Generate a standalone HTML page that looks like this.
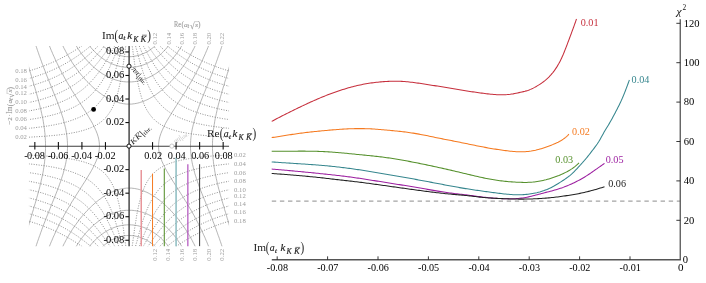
<!DOCTYPE html><html><head><meta charset="utf-8"><style>
html,body{margin:0;padding:0;background:#fff;}svg{display:block;will-change:transform;}text{font-family:"Liberation Serif",serif;}
</style></head><body>
<svg width="706" height="283" viewBox="0 0 706 283">
<rect width="706" height="283" fill="#fff"/>
<defs><clipPath id="cp"><rect x="28.95" y="46.05" width="200.09" height="200.09"/></clipPath></defs>
<g clip-path="url(#cp)" fill="none" stroke="#929292" stroke-width="0.68">
<path d="M159.4 250.8L158.3 249.5L157.2 248.4L156.0 247.2L154.8 246.1L153.6 245.0L152.3 244.0L151.0 243.0L149.7 242.1L148.3 241.2L146.9 240.4L145.5 239.6L144.0 238.9L142.5 238.2L141.0 237.6L139.5 237.1L137.9 236.7L136.3 236.3L134.7 236.0L133.1 235.7L131.4 235.6L129.8 235.5L128.2 235.5L126.6 235.6L124.9 235.7L123.3 236.0L121.7 236.3L120.1 236.7L118.5 237.1L117.0 237.6L115.5 238.2L114.0 238.9L112.5 239.6L111.1 240.4L109.7 241.2L108.3 242.1L107.0 243.0L105.7 244.0L104.4 245.0L103.2 246.1L102.0 247.2L100.8 248.4L99.7 249.5L98.6 250.8"/>
<path d="M98.6 41.4L99.7 42.7L100.8 43.8L102.0 45.0L103.2 46.1L104.4 47.2L105.7 48.2L107.0 49.2L108.3 50.1L109.7 51.0L111.1 51.8L112.5 52.6L114.0 53.3L115.5 54.0L117.0 54.6L118.5 55.1L120.1 55.5L121.7 55.9L123.3 56.2L124.9 56.5L126.6 56.6L128.2 56.7L129.8 56.7L131.4 56.6L133.1 56.5L134.7 56.2L136.3 55.9L137.9 55.5L139.5 55.1L141.0 54.6L142.5 54.0L144.0 53.3L145.5 52.6L146.9 51.8L148.3 51.0L149.7 50.1L151.0 49.2L152.3 48.2L153.6 47.2L154.8 46.1L156.0 45.0L157.2 43.8L158.3 42.7L159.4 41.4"/>
<path d="M171.7 250.8L170.8 249.5L169.8 248.2L168.9 246.9L167.9 245.7L166.9 244.4L165.8 243.2L164.7 242.0L163.6 240.9L162.5 239.7L161.4 238.6L160.2 237.5L159.0 236.5L157.7 235.5L156.5 234.5L155.2 233.6L153.8 232.6L152.5 231.8L151.1 231.0L149.7 230.2L148.3 229.4L146.8 228.8L145.4 228.1L143.9 227.5L142.4 227.0L140.8 226.5L139.3 226.1L137.7 225.7L136.2 225.4L134.6 225.2L133.0 225.0L131.4 224.9L129.8 224.8L128.2 224.8L126.6 224.9L125.0 225.0L123.4 225.2L121.8 225.4L120.3 225.7L118.7 226.1L117.2 226.5L115.6 227.0L114.1 227.5L112.6 228.1L111.2 228.8L109.7 229.4L108.3 230.2L106.9 231.0L105.5 231.8L104.2 232.6L102.8 233.6L101.5 234.5L100.3 235.5L99.0 236.5L97.8 237.5L96.6 238.6L95.5 239.7L94.4 240.9L93.3 242.0L92.2 243.2L91.1 244.4L90.1 245.7L89.1 246.9L88.2 248.2L87.2 249.5L86.3 250.8"/>
<path d="M86.3 41.4L87.2 42.7L88.2 44.0L89.1 45.3L90.1 46.5L91.1 47.8L92.2 49.0L93.3 50.2L94.4 51.3L95.5 52.5L96.6 53.6L97.8 54.7L99.0 55.7L100.3 56.7L101.5 57.7L102.8 58.6L104.2 59.6L105.5 60.4L106.9 61.2L108.3 62.0L109.7 62.8L111.2 63.4L112.6 64.1L114.1 64.7L115.6 65.2L117.2 65.7L118.7 66.1L120.3 66.5L121.8 66.8L123.4 67.0L125.0 67.2L126.6 67.3L128.2 67.4L129.8 67.4L131.4 67.3L133.0 67.2L134.6 67.0L136.2 66.8L137.7 66.5L139.3 66.1L140.8 65.7L142.4 65.2L143.9 64.7L145.4 64.1L146.8 63.4L148.3 62.8L149.7 62.0L151.1 61.2L152.5 60.4L153.8 59.6L155.2 58.6L156.5 57.7L157.7 56.7L159.0 55.7L160.2 54.7L161.4 53.6L162.5 52.5L163.6 51.3L164.7 50.2L165.8 49.0L166.9 47.8L167.9 46.5L168.9 45.3L169.8 44.0L170.8 42.7L171.7 41.4"/>
<path d="M184.4 250.8L183.6 249.4L182.8 248.0L181.9 246.6L181.1 245.3L180.2 243.9L179.3 242.6L178.4 241.2L177.5 239.9L176.5 238.6L175.6 237.3L174.6 236.0L173.6 234.8L172.5 233.5L171.5 232.3L170.4 231.1L169.3 229.9L168.2 228.7L167.0 227.6L165.8 226.5L164.6 225.4L163.4 224.3L162.2 223.3L160.9 222.3L159.6 221.3L158.3 220.3L157.0 219.4L155.7 218.5L154.3 217.7L152.9 216.9L151.5 216.1L150.0 215.4L148.6 214.7L147.1 214.0L145.6 213.4L144.1 212.9L142.5 212.3L141.0 211.9L139.4 211.5L137.8 211.1L136.2 210.8L134.6 210.6L133.0 210.4L131.4 210.3L129.8 210.3L128.2 210.3L126.6 210.3L125.0 210.4L123.4 210.6L121.8 210.8L120.2 211.1L118.6 211.5L117.0 211.9L115.5 212.3L113.9 212.9L112.4 213.4L110.9 214.0L109.4 214.7L108.0 215.4L106.5 216.1L105.1 216.9L103.7 217.7L102.3 218.5L101.0 219.4L99.7 220.3L98.4 221.3L97.1 222.3L95.8 223.3L94.6 224.3L93.4 225.4L92.2 226.5L91.0 227.6L89.8 228.7L88.7 229.9L87.6 231.1L86.5 232.3L85.5 233.5L84.4 234.8L83.4 236.0L82.4 237.3L81.5 238.6L80.5 239.9L79.6 241.2L78.7 242.6L77.8 243.9L76.9 245.3L76.1 246.6L75.2 248.0L74.4 249.4L73.6 250.8"/>
<path d="M73.6 41.4L74.4 42.8L75.2 44.2L76.1 45.6L76.9 46.9L77.8 48.3L78.7 49.6L79.6 51.0L80.5 52.3L81.5 53.6L82.4 54.9L83.4 56.2L84.4 57.4L85.5 58.7L86.5 59.9L87.6 61.1L88.7 62.3L89.8 63.5L91.0 64.6L92.2 65.7L93.4 66.8L94.6 67.9L95.8 68.9L97.1 69.9L98.4 70.9L99.7 71.9L101.0 72.8L102.3 73.7L103.7 74.5L105.1 75.3L106.5 76.1L108.0 76.8L109.4 77.5L110.9 78.2L112.4 78.8L113.9 79.3L115.5 79.9L117.0 80.3L118.6 80.7L120.2 81.1L121.8 81.4L123.4 81.6L125.0 81.8L126.6 81.9L128.2 81.9L129.8 81.9L131.4 81.9L133.0 81.8L134.6 81.6L136.2 81.4L137.8 81.1L139.4 80.7L141.0 80.3L142.5 79.9L144.1 79.3L145.6 78.8L147.1 78.2L148.6 77.5L150.0 76.8L151.5 76.1L152.9 75.3L154.3 74.5L155.7 73.7L157.0 72.8L158.3 71.9L159.6 70.9L160.9 69.9L162.2 68.9L163.4 67.9L164.6 66.8L165.8 65.7L167.0 64.6L168.2 63.5L169.3 62.3L170.4 61.1L171.5 59.9L172.5 58.7L173.6 57.4L174.6 56.2L175.6 54.9L176.5 53.6L177.5 52.3L178.4 51.0L179.3 49.6L180.2 48.3L181.1 46.9L181.9 45.6L182.8 44.2L183.6 42.8L184.4 41.4"/>
<path d="M197.2 250.8L196.6 249.4L195.9 247.9L195.2 246.5L194.5 245.0L193.8 243.6L193.0 242.2L192.3 240.7L191.5 239.3L190.7 237.9L189.9 236.5L189.1 235.1L188.3 233.8L187.5 232.4L186.6 231.0L185.8 229.7L184.9 228.3L184.0 227.0L183.1 225.7L182.1 224.4L181.2 223.1L180.2 221.8L179.3 220.5L178.3 219.2L177.3 218.0L176.3 216.7L175.2 215.5L174.2 214.3L173.1 213.1L172.0 211.9L171.0 210.7L169.8 209.6L168.7 208.4L167.6 207.3L166.4 206.2L165.2 205.1L164.0 204.0L162.8 203.0L161.6 201.9L160.3 200.9L159.1 199.9L157.8 199.0L156.5 198.0L155.2 197.1L153.8 196.2L152.5 195.4L151.1 194.6L149.7 193.8L148.3 193.0L146.8 192.3L145.3 191.7L143.9 191.0L142.4 190.5L140.8 190.0L139.3 189.5L137.7 189.1L136.2 188.8L134.6 188.5L133.0 188.3L131.4 188.1L129.8 188.1L128.2 188.1L126.6 188.1L125.0 188.3L123.4 188.5L121.8 188.8L120.3 189.1L118.7 189.5L117.2 190.0L115.6 190.5L114.1 191.0L112.7 191.7L111.2 192.3L109.7 193.0L108.3 193.8L106.9 194.6L105.5 195.4L104.2 196.2L102.8 197.1L101.5 198.0L100.2 199.0L98.9 199.9L97.7 200.9L96.4 201.9L95.2 203.0L94.0 204.0L92.8 205.1L91.6 206.2L90.4 207.3L89.3 208.4L88.2 209.6L87.0 210.7L86.0 211.9L84.9 213.1L83.8 214.3L82.8 215.5L81.7 216.7L80.7 218.0L79.7 219.2L78.7 220.5L77.8 221.8L76.8 223.1L75.9 224.4L74.9 225.7L74.0 227.0L73.1 228.3L72.2 229.7L71.4 231.0L70.5 232.4L69.7 233.8L68.9 235.1L68.1 236.5L67.3 237.9L66.5 239.3L65.7 240.7L65.0 242.2L64.2 243.6L63.5 245.0L62.8 246.5L62.1 247.9L61.4 249.4L60.8 250.8"/>
<path d="M60.8 41.4L61.4 42.8L62.1 44.3L62.8 45.7L63.5 47.2L64.2 48.6L65.0 50.0L65.7 51.5L66.5 52.9L67.3 54.3L68.1 55.7L68.9 57.1L69.7 58.4L70.5 59.8L71.4 61.2L72.2 62.5L73.1 63.9L74.0 65.2L74.9 66.5L75.9 67.8L76.8 69.1L77.8 70.4L78.7 71.7L79.7 73.0L80.7 74.2L81.7 75.5L82.8 76.7L83.8 77.9L84.9 79.1L86.0 80.3L87.0 81.5L88.2 82.6L89.3 83.8L90.4 84.9L91.6 86.0L92.8 87.1L94.0 88.2L95.2 89.2L96.4 90.3L97.7 91.3L98.9 92.3L100.2 93.2L101.5 94.2L102.8 95.1L104.2 96.0L105.5 96.8L106.9 97.6L108.3 98.4L109.7 99.2L111.2 99.9L112.7 100.5L114.1 101.2L115.6 101.7L117.2 102.2L118.7 102.7L120.3 103.1L121.8 103.4L123.4 103.7L125.0 103.9L126.6 104.1L128.2 104.1L129.8 104.1L131.4 104.1L133.0 103.9L134.6 103.7L136.2 103.4L137.7 103.1L139.3 102.7L140.8 102.2L142.4 101.7L143.9 101.2L145.3 100.5L146.8 99.9L148.3 99.2L149.7 98.4L151.1 97.6L152.5 96.8L153.8 96.0L155.2 95.1L156.5 94.2L157.8 93.2L159.1 92.3L160.3 91.3L161.6 90.3L162.8 89.2L164.0 88.2L165.2 87.1L166.4 86.0L167.6 84.9L168.7 83.8L169.8 82.6L171.0 81.5L172.0 80.3L173.1 79.1L174.2 77.9L175.2 76.7L176.3 75.5L177.3 74.2L178.3 73.0L179.3 71.7L180.2 70.4L181.2 69.1L182.1 67.8L183.1 66.5L184.0 65.2L184.9 63.9L185.8 62.5L186.6 61.2L187.5 59.8L188.3 58.4L189.1 57.1L189.9 55.7L190.7 54.3L191.5 52.9L192.3 51.5L193.0 50.0L193.8 48.6L194.5 47.2L195.2 45.7L195.9 44.3L196.6 42.8L197.2 41.4"/>
<path d="M210.2 250.7L209.7 249.2L209.1 247.7L208.5 246.2L207.9 244.7L207.3 243.2L206.7 241.7L206.0 240.2L205.4 238.7L204.8 237.3L204.1 235.8L203.4 234.3L202.8 232.9L202.1 231.4L201.4 230.0L200.7 228.5L200.0 227.1L199.3 225.6L198.6 224.2L197.8 222.7L197.1 221.3L196.3 219.9L195.6 218.5L194.8 217.1L194.1 215.6L193.3 214.2L192.5 212.8L191.7 211.4L190.9 210.0L190.1 208.6L189.3 207.3L188.4 205.9L187.6 204.5L186.8 203.1L186.0 201.7L185.1 200.4L184.3 199.0L183.4 197.6L182.6 196.3L181.7 194.9L180.8 193.6L180.0 192.2L179.1 190.8L178.2 189.5L177.4 188.1L176.5 186.8L175.6 185.4L174.8 184.1L173.9 182.7L173.0 181.3L172.2 180.0L171.3 178.6L170.5 177.2L169.7 175.9L168.8 174.5L168.0 173.1L167.2 171.7L166.4 170.3L165.6 168.9L164.9 167.5L164.1 166.1L163.4 164.6L162.8 163.1L162.1 161.7L161.5 160.2L160.9 158.7L160.4 157.2L159.9 155.6L159.5 154.1L159.2 152.5L158.9 150.9L158.7 149.3L158.6 147.7L158.5 146.1L158.6 144.5L158.7 142.9L158.9 141.3L159.2 139.7L159.5 138.1L159.9 136.6L160.4 135.0L160.9 133.5L161.5 132.0L162.1 130.5L162.8 129.1L163.4 127.6L164.1 126.1L164.9 124.7L165.6 123.3L166.4 121.9L167.2 120.5L168.0 119.1L168.8 117.7L169.7 116.3L170.5 115.0L171.3 113.6L172.2 112.2L173.0 110.9L173.9 109.5L174.8 108.1L175.6 106.8L176.5 105.4L177.4 104.1L178.2 102.7L179.1 101.4L180.0 100.0L180.8 98.6L181.7 97.3L182.6 95.9L183.4 94.6L184.3 93.2L185.1 91.8L186.0 90.5L186.8 89.1L187.6 87.7L188.4 86.3L189.3 84.9L190.1 83.6L190.9 82.2L191.7 80.8L192.5 79.4L193.3 78.0L194.1 76.6L194.8 75.1L195.6 73.7L196.3 72.3L197.1 70.9L197.8 69.5L198.6 68.0L199.3 66.6L200.0 65.1L200.7 63.7L201.4 62.2L202.1 60.8L202.8 59.3L203.4 57.9L204.1 56.4L204.8 54.9L205.4 53.5L206.0 52.0L206.7 50.5L207.3 49.0L207.9 47.5L208.5 46.0L209.1 44.5L209.7 43.0L210.2 41.5"/>
<path d="M47.8 41.5L48.3 43.0L48.9 44.5L49.5 46.0L50.1 47.5L50.7 49.0L51.3 50.5L52.0 52.0L52.6 53.5L53.2 54.9L53.9 56.4L54.6 57.9L55.2 59.3L55.9 60.8L56.6 62.2L57.3 63.7L58.0 65.1L58.7 66.6L59.4 68.0L60.2 69.5L60.9 70.9L61.7 72.3L62.4 73.7L63.2 75.1L63.9 76.6L64.7 78.0L65.5 79.4L66.3 80.8L67.1 82.2L67.9 83.6L68.7 84.9L69.6 86.3L70.4 87.7L71.2 89.1L72.0 90.5L72.9 91.8L73.7 93.2L74.6 94.6L75.4 95.9L76.3 97.3L77.2 98.6L78.0 100.0L78.9 101.4L79.8 102.7L80.6 104.1L81.5 105.4L82.4 106.8L83.2 108.1L84.1 109.5L85.0 110.9L85.8 112.2L86.7 113.6L87.5 115.0L88.3 116.3L89.2 117.7L90.0 119.1L90.8 120.5L91.6 121.9L92.4 123.3L93.1 124.7L93.9 126.1L94.6 127.6L95.2 129.1L95.9 130.5L96.5 132.0L97.1 133.5L97.6 135.0L98.1 136.6L98.5 138.1L98.8 139.7L99.1 141.3L99.3 142.9L99.4 144.5L99.5 146.1L99.4 147.7L99.3 149.3L99.1 150.9L98.8 152.5L98.5 154.1L98.1 155.6L97.6 157.2L97.1 158.7L96.5 160.2L95.9 161.7L95.2 163.1L94.6 164.6L93.9 166.1L93.1 167.5L92.4 168.9L91.6 170.3L90.8 171.7L90.0 173.1L89.2 174.5L88.3 175.9L87.5 177.2L86.7 178.6L85.8 180.0L85.0 181.3L84.1 182.7L83.2 184.1L82.4 185.4L81.5 186.8L80.6 188.1L79.8 189.5L78.9 190.8L78.0 192.2L77.2 193.6L76.3 194.9L75.4 196.3L74.6 197.6L73.7 199.0L72.9 200.4L72.0 201.7L71.2 203.1L70.4 204.5L69.6 205.9L68.7 207.3L67.9 208.6L67.1 210.0L66.3 211.4L65.5 212.8L64.7 214.2L63.9 215.6L63.2 217.1L62.4 218.5L61.7 219.9L60.9 221.3L60.2 222.7L59.4 224.2L58.7 225.6L58.0 227.1L57.3 228.5L56.6 230.0L55.9 231.4L55.2 232.9L54.6 234.3L53.9 235.8L53.2 237.3L52.6 238.7L52.0 240.2L51.3 241.7L50.7 243.2L50.1 244.7L49.5 246.2L48.9 247.7L48.3 249.2L47.8 250.7"/>
<path d="M223.4 250.6L222.9 249.1L222.4 247.6L221.9 246.0L221.4 244.5L220.9 243.0L220.4 241.5L219.8 239.9L219.3 238.4L218.8 236.9L218.2 235.4L217.7 233.9L217.2 232.4L216.6 230.9L216.1 229.3L215.5 227.8L214.9 226.3L214.4 224.8L213.8 223.3L213.2 221.8L212.6 220.3L212.0 218.8L211.5 217.3L210.9 215.8L210.3 214.4L209.7 212.9L209.1 211.4L208.5 209.9L207.9 208.4L207.3 206.9L206.7 205.4L206.1 203.9L205.5 202.4L204.9 200.9L204.3 199.4L203.7 197.9L203.1 196.5L202.5 195.0L201.9 193.5L201.3 192.0L200.7 190.5L200.2 189.0L199.6 187.5L199.0 186.0L198.5 184.4L197.9 182.9L197.4 181.4L196.9 179.9L196.4 178.4L195.9 176.8L195.4 175.3L194.9 173.8L194.5 172.2L194.1 170.7L193.6 169.1L193.3 167.6L192.9 166.0L192.5 164.4L192.2 162.9L191.9 161.3L191.6 159.7L191.4 158.1L191.2 156.5L191.0 154.9L190.8 153.3L190.7 151.7L190.6 150.1L190.5 148.5L190.5 146.9L190.5 145.3L190.5 143.7L190.6 142.1L190.7 140.5L190.8 138.9L191.0 137.3L191.2 135.7L191.4 134.1L191.6 132.5L191.9 130.9L192.2 129.3L192.5 127.8L192.9 126.2L193.3 124.6L193.6 123.1L194.1 121.5L194.5 120.0L194.9 118.4L195.4 116.9L195.9 115.4L196.4 113.8L196.9 112.3L197.4 110.8L197.9 109.3L198.5 107.8L199.0 106.2L199.6 104.7L200.2 103.2L200.7 101.7L201.3 100.2L201.9 98.7L202.5 97.2L203.1 95.7L203.7 94.3L204.3 92.8L204.9 91.3L205.5 89.8L206.1 88.3L206.7 86.8L207.3 85.3L207.9 83.8L208.5 82.3L209.1 80.8L209.7 79.3L210.3 77.8L210.9 76.4L211.5 74.9L212.0 73.4L212.6 71.9L213.2 70.4L213.8 68.9L214.4 67.4L214.9 65.9L215.5 64.4L216.1 62.9L216.6 61.3L217.2 59.8L217.7 58.3L218.2 56.8L218.8 55.3L219.3 53.8L219.8 52.3L220.4 50.7L220.9 49.2L221.4 47.7L221.9 46.2L222.4 44.6L222.9 43.1L223.4 41.6"/>
<path d="M34.6 41.6L35.1 43.1L35.6 44.6L36.1 46.2L36.6 47.7L37.1 49.2L37.6 50.7L38.2 52.3L38.7 53.8L39.2 55.3L39.8 56.8L40.3 58.3L40.8 59.8L41.4 61.3L41.9 62.9L42.5 64.4L43.1 65.9L43.6 67.4L44.2 68.9L44.8 70.4L45.4 71.9L46.0 73.4L46.5 74.9L47.1 76.4L47.7 77.8L48.3 79.3L48.9 80.8L49.5 82.3L50.1 83.8L50.7 85.3L51.3 86.8L51.9 88.3L52.5 89.8L53.1 91.3L53.7 92.8L54.3 94.3L54.9 95.7L55.5 97.2L56.1 98.7L56.7 100.2L57.3 101.7L57.8 103.2L58.4 104.7L59.0 106.2L59.5 107.8L60.1 109.3L60.6 110.8L61.1 112.3L61.6 113.8L62.1 115.4L62.6 116.9L63.1 118.4L63.5 120.0L63.9 121.5L64.4 123.1L64.7 124.6L65.1 126.2L65.5 127.8L65.8 129.3L66.1 130.9L66.4 132.5L66.6 134.1L66.8 135.7L67.0 137.3L67.2 138.9L67.3 140.5L67.4 142.1L67.5 143.7L67.5 145.3L67.5 146.9L67.5 148.5L67.4 150.1L67.3 151.7L67.2 153.3L67.0 154.9L66.8 156.5L66.6 158.1L66.4 159.7L66.1 161.3L65.8 162.9L65.5 164.4L65.1 166.0L64.7 167.6L64.4 169.1L63.9 170.7L63.5 172.2L63.1 173.8L62.6 175.3L62.1 176.8L61.6 178.4L61.1 179.9L60.6 181.4L60.1 182.9L59.5 184.4L59.0 186.0L58.4 187.5L57.8 189.0L57.3 190.5L56.7 192.0L56.1 193.5L55.5 195.0L54.9 196.5L54.3 197.9L53.7 199.4L53.1 200.9L52.5 202.4L51.9 203.9L51.3 205.4L50.7 206.9L50.1 208.4L49.5 209.9L48.9 211.4L48.3 212.9L47.7 214.4L47.1 215.8L46.5 217.3L46.0 218.8L45.4 220.3L44.8 221.8L44.2 223.3L43.6 224.8L43.1 226.3L42.5 227.8L41.9 229.3L41.4 230.9L40.8 232.4L40.3 233.9L39.8 235.4L39.2 236.9L38.7 238.4L38.2 239.9L37.6 241.5L37.1 243.0L36.6 244.5L36.1 246.0L35.6 247.6L35.1 249.1L34.6 250.6"/>
<path d="M233.7 240.3L233.3 238.7L232.8 237.2L232.4 235.7L232.0 234.1L231.5 232.6L231.1 231.0L230.6 229.5L230.2 228.0L229.7 226.4L229.2 224.9L228.8 223.4L228.3 221.8L227.9 220.3L227.4 218.8L226.9 217.2L226.5 215.7L226.0 214.2L225.6 212.6L225.1 211.1L224.6 209.6L224.2 208.0L223.7 206.5L223.3 205.0L222.8 203.4L222.4 201.9L221.9 200.3L221.5 198.8L221.1 197.3L220.6 195.7L220.2 194.2L219.8 192.6L219.4 191.1L218.9 189.5L218.5 188.0L218.1 186.4L217.8 184.9L217.4 183.3L217.0 181.8L216.7 180.2L216.3 178.6L216.0 177.1L215.6 175.5L215.3 173.9L215.0 172.4L214.7 170.8L214.5 169.2L214.2 167.6L214.0 166.0L213.8 164.5L213.5 162.9L213.4 161.3L213.2 159.7L213.0 158.1L212.9 156.5L212.8 154.9L212.7 153.3L212.6 151.7L212.5 150.1L212.5 148.5L212.5 146.9L212.5 145.3L212.5 143.7L212.5 142.1L212.6 140.5L212.7 138.9L212.8 137.3L212.9 135.7L213.0 134.1L213.2 132.5L213.4 130.9L213.5 129.3L213.8 127.7L214.0 126.2L214.2 124.6L214.5 123.0L214.7 121.4L215.0 119.8L215.3 118.3L215.6 116.7L216.0 115.1L216.3 113.6L216.7 112.0L217.0 110.4L217.4 108.9L217.8 107.3L218.1 105.8L218.5 104.2L218.9 102.7L219.4 101.1L219.8 99.6L220.2 98.0L220.6 96.5L221.1 94.9L221.5 93.4L221.9 91.9L222.4 90.3L222.8 88.8L223.3 87.2L223.7 85.7L224.2 84.2L224.6 82.6L225.1 81.1L225.6 79.6L226.0 78.0L226.5 76.5L226.9 75.0L227.4 73.4L227.9 71.9L228.3 70.4L228.8 68.8L229.2 67.3L229.7 65.8L230.2 64.2L230.6 62.7L231.1 61.2L231.5 59.6L232.0 58.1L232.4 56.5L232.8 55.0L233.3 53.5L233.7 51.9"/>
<path d="M24.3 51.9L24.7 53.5L25.2 55.0L25.6 56.5L26.0 58.1L26.5 59.6L26.9 61.2L27.4 62.7L27.8 64.2L28.3 65.8L28.8 67.3L29.2 68.8L29.7 70.4L30.1 71.9L30.6 73.4L31.1 75.0L31.5 76.5L32.0 78.0L32.4 79.6L32.9 81.1L33.4 82.6L33.8 84.2L34.3 85.7L34.7 87.2L35.2 88.8L35.6 90.3L36.1 91.9L36.5 93.4L36.9 94.9L37.4 96.5L37.8 98.0L38.2 99.6L38.6 101.1L39.1 102.7L39.5 104.2L39.9 105.8L40.2 107.3L40.6 108.9L41.0 110.4L41.3 112.0L41.7 113.6L42.0 115.1L42.4 116.7L42.7 118.3L43.0 119.8L43.3 121.4L43.5 123.0L43.8 124.6L44.0 126.2L44.2 127.7L44.5 129.3L44.6 130.9L44.8 132.5L45.0 134.1L45.1 135.7L45.2 137.3L45.3 138.9L45.4 140.5L45.5 142.1L45.5 143.7L45.5 145.3L45.5 146.9L45.5 148.5L45.5 150.1L45.4 151.7L45.3 153.3L45.2 154.9L45.1 156.5L45.0 158.1L44.8 159.7L44.6 161.3L44.5 162.9L44.2 164.5L44.0 166.0L43.8 167.6L43.5 169.2L43.3 170.8L43.0 172.4L42.7 173.9L42.4 175.5L42.0 177.1L41.7 178.6L41.3 180.2L41.0 181.8L40.6 183.3L40.2 184.9L39.9 186.4L39.5 188.0L39.1 189.5L38.6 191.1L38.2 192.6L37.8 194.2L37.4 195.7L36.9 197.3L36.5 198.8L36.1 200.3L35.6 201.9L35.2 203.4L34.7 205.0L34.3 206.5L33.8 208.0L33.4 209.6L32.9 211.1L32.4 212.6L32.0 214.2L31.5 215.7L31.1 217.2L30.6 218.8L30.1 220.3L29.7 221.8L29.2 223.4L28.8 224.9L28.3 226.4L27.8 228.0L27.4 229.5L26.9 231.0L26.5 232.6L26.0 234.1L25.6 235.7L25.2 237.2L24.7 238.7L24.3 240.3"/>
</g>
<g clip-path="url(#cp)" fill="none" stroke="#868686" stroke-width="0.9" stroke-dasharray="1.05 1.45">
<path d="M131.5 41.4L131.8 43.0L132.0 44.6L132.2 46.2L132.5 47.7L132.7 49.3L132.9 50.9L133.1 52.5L133.3 54.1L133.5 55.7L133.8 57.3L134.0 58.9L134.2 60.5L134.4 62.1L134.6 63.7L134.9 65.3L135.1 66.9L135.4 68.4L135.6 70.0L135.9 71.6L136.1 73.2L136.4 74.8L136.6 76.4L136.9 78.0L137.2 79.5L137.5 81.1L137.8 82.7L138.2 84.3L138.5 85.8L138.9 87.4L139.2 89.0L139.6 90.5L140.0 92.1L140.4 93.6L140.9 95.2L141.3 96.7L141.8 98.3L142.4 99.8L142.9 101.3L143.5 102.8L144.1 104.3L144.7 105.8L145.4 107.2L146.1 108.6L146.9 110.1L147.7 111.4L148.6 112.8L149.5 114.1L150.5 115.4L151.5 116.7L152.5 117.9L153.7 119.0L154.8 120.1L156.0 121.2L157.3 122.2L158.6 123.1L159.9 124.0L161.3 124.9L162.7 125.6L164.1 126.4L165.6 127.1L167.1 127.7L168.5 128.3L170.1 128.9L171.6 129.4L173.1 129.9L174.6 130.4L176.2 130.8L177.7 131.2L179.3 131.6L180.9 132.0L182.4 132.3L184.0 132.6L185.6 132.9L187.2 133.2L188.8 133.5L190.4 133.7L191.9 134.0L193.5 134.2L195.1 134.4L196.7 134.6L198.3 134.8L199.9 135.0L201.5 135.2L203.1 135.3L204.7 135.5L206.3 135.6L207.9 135.8L209.5 135.9L211.1 136.1L212.7 136.2L214.3 136.3L215.9 136.4L217.5 136.5L219.1 136.6L220.7 136.7L222.3 136.8L223.9 136.9L225.6 137.0L227.2 137.1L228.8 137.2L230.4 137.3L232.0 137.3L233.6 137.4"/>
<path d="M126.5 250.8L126.2 249.2L126.0 247.6L125.8 246.0L125.5 244.5L125.3 242.9L125.1 241.3L124.9 239.7L124.7 238.1L124.5 236.5L124.2 234.9L124.0 233.3L123.8 231.7L123.6 230.1L123.4 228.5L123.1 226.9L122.9 225.3L122.6 223.8L122.4 222.2L122.1 220.6L121.9 219.0L121.6 217.4L121.4 215.8L121.1 214.2L120.8 212.7L120.5 211.1L120.2 209.5L119.8 207.9L119.5 206.4L119.1 204.8L118.8 203.2L118.4 201.7L118.0 200.1L117.6 198.6L117.1 197.0L116.7 195.5L116.2 193.9L115.6 192.4L115.1 190.9L114.5 189.4L113.9 187.9L113.3 186.4L112.6 185.0L111.9 183.6L111.1 182.1L110.3 180.8L109.4 179.4L108.5 178.1L107.5 176.8L106.5 175.5L105.5 174.3L104.3 173.2L103.2 172.1L102.0 171.0L100.7 170.0L99.4 169.1L98.1 168.2L96.7 167.3L95.3 166.6L93.9 165.8L92.4 165.1L90.9 164.5L89.5 163.9L87.9 163.3L86.4 162.8L84.9 162.3L83.4 161.8L81.8 161.4L80.3 161.0L78.7 160.6L77.1 160.2L75.6 159.9L74.0 159.6L72.4 159.3L70.8 159.0L69.2 158.7L67.6 158.5L66.1 158.2L64.5 158.0L62.9 157.8L61.3 157.6L59.7 157.4L58.1 157.2L56.5 157.0L54.9 156.9L53.3 156.7L51.7 156.6L50.1 156.4L48.5 156.3L46.9 156.1L45.3 156.0L43.7 155.9L42.1 155.8L40.5 155.7L38.9 155.6L37.3 155.5L35.7 155.4L34.1 155.3L32.4 155.2L30.8 155.1L29.2 155.0L27.6 154.9L26.0 154.9L24.4 154.8"/>
<path d="M131.5 250.8L131.8 249.2L132.0 247.6L132.2 246.0L132.5 244.5L132.7 242.9L132.9 241.3L133.1 239.7L133.3 238.1L133.5 236.5L133.8 234.9L134.0 233.3L134.2 231.7L134.4 230.1L134.6 228.5L134.9 226.9L135.1 225.3L135.4 223.8L135.6 222.2L135.9 220.6L136.1 219.0L136.4 217.4L136.6 215.8L136.9 214.2L137.2 212.7L137.5 211.1L137.8 209.5L138.2 207.9L138.5 206.4L138.9 204.8L139.2 203.2L139.6 201.7L140.0 200.1L140.4 198.6L140.9 197.0L141.3 195.5L141.8 193.9L142.4 192.4L142.9 190.9L143.5 189.4L144.1 187.9L144.7 186.4L145.4 185.0L146.1 183.6L146.9 182.1L147.7 180.8L148.6 179.4L149.5 178.1L150.5 176.8L151.5 175.5L152.5 174.3L153.7 173.2L154.8 172.1L156.0 171.0L157.3 170.0L158.6 169.1L159.9 168.2L161.3 167.3L162.7 166.6L164.1 165.8L165.6 165.1L167.1 164.5L168.5 163.9L170.1 163.3L171.6 162.8L173.1 162.3L174.6 161.8L176.2 161.4L177.7 161.0L179.3 160.6L180.9 160.2L182.4 159.9L184.0 159.6L185.6 159.3L187.2 159.0L188.8 158.7L190.4 158.5L191.9 158.2L193.5 158.0L195.1 157.8L196.7 157.6L198.3 157.4L199.9 157.2L201.5 157.0L203.1 156.9L204.7 156.7L206.3 156.6L207.9 156.4L209.5 156.3L211.1 156.1L212.7 156.0L214.3 155.9L215.9 155.8L217.5 155.7L219.1 155.6L220.7 155.5L222.3 155.4L223.9 155.3L225.6 155.2L227.2 155.1L228.8 155.0L230.4 154.9L232.0 154.9L233.6 154.8"/>
<path d="M126.5 41.4L126.2 43.0L126.0 44.6L125.8 46.2L125.5 47.7L125.3 49.3L125.1 50.9L124.9 52.5L124.7 54.1L124.5 55.7L124.2 57.3L124.0 58.9L123.8 60.5L123.6 62.1L123.4 63.7L123.1 65.3L122.9 66.9L122.6 68.4L122.4 70.0L122.1 71.6L121.9 73.2L121.6 74.8L121.4 76.4L121.1 78.0L120.8 79.5L120.5 81.1L120.2 82.7L119.8 84.3L119.5 85.8L119.1 87.4L118.8 89.0L118.4 90.5L118.0 92.1L117.6 93.6L117.1 95.2L116.7 96.7L116.2 98.3L115.6 99.8L115.1 101.3L114.5 102.8L113.9 104.3L113.3 105.8L112.6 107.2L111.9 108.6L111.1 110.1L110.3 111.4L109.4 112.8L108.5 114.1L107.5 115.4L106.5 116.7L105.5 117.9L104.3 119.0L103.2 120.1L102.0 121.2L100.7 122.2L99.4 123.1L98.1 124.0L96.7 124.9L95.3 125.6L93.9 126.4L92.4 127.1L90.9 127.7L89.5 128.3L87.9 128.9L86.4 129.4L84.9 129.9L83.4 130.4L81.8 130.8L80.3 131.2L78.7 131.6L77.1 132.0L75.6 132.3L74.0 132.6L72.4 132.9L70.8 133.2L69.2 133.5L67.6 133.7L66.1 134.0L64.5 134.2L62.9 134.4L61.3 134.6L59.7 134.8L58.1 135.0L56.5 135.2L54.9 135.3L53.3 135.5L51.7 135.6L50.1 135.8L48.5 135.9L46.9 136.1L45.3 136.2L43.7 136.3L42.1 136.4L40.5 136.5L38.9 136.6L37.3 136.7L35.7 136.8L34.1 136.9L32.4 137.0L30.8 137.1L29.2 137.2L27.6 137.3L26.0 137.3L24.4 137.4"/>
<path d="M134.2 41.4L134.7 42.9L135.2 44.4L135.6 46.0L136.0 47.5L136.4 49.1L136.9 50.6L137.3 52.2L137.7 53.7L138.1 55.3L138.5 56.8L139.0 58.4L139.4 59.9L139.8 61.5L140.3 63.0L140.7 64.6L141.2 66.1L141.7 67.6L142.1 69.2L142.6 70.7L143.1 72.2L143.6 73.8L144.2 75.3L144.7 76.8L145.3 78.3L145.8 79.8L146.4 81.3L147.1 82.8L147.7 84.3L148.3 85.7L149.0 87.2L149.7 88.6L150.5 90.1L151.2 91.5L152.0 92.9L152.8 94.3L153.7 95.6L154.5 97.0L155.4 98.3L156.4 99.6L157.4 100.9L158.4 102.1L159.4 103.3L160.5 104.5L161.6 105.7L162.8 106.8L164.0 107.9L165.2 108.9L166.4 110.0L167.7 110.9L169.0 111.9L170.4 112.8L171.7 113.6L173.1 114.4L174.5 115.2L175.9 116.0L177.4 116.7L178.8 117.4L180.3 118.0L181.8 118.6L183.3 119.2L184.8 119.8L186.3 120.3L187.8 120.8L189.3 121.3L190.9 121.8L192.4 122.2L194.0 122.6L195.5 123.0L197.1 123.4L198.7 123.8L200.2 124.1L201.8 124.4L203.4 124.8L205.0 125.1L206.5 125.3L208.1 125.6L209.7 125.9L211.3 126.1L212.9 126.4L214.5 126.6L216.1 126.8L217.7 127.0L219.3 127.2L220.9 127.4L222.4 127.6L224.0 127.8L225.6 128.0L227.2 128.1L228.8 128.3L230.4 128.5L232.0 128.6L233.6 128.8"/>
<path d="M123.8 250.8L123.3 249.3L122.8 247.8L122.4 246.2L122.0 244.7L121.6 243.1L121.1 241.6L120.7 240.0L120.3 238.5L119.9 236.9L119.5 235.4L119.0 233.8L118.6 232.3L118.2 230.7L117.7 229.2L117.3 227.6L116.8 226.1L116.3 224.6L115.9 223.0L115.4 221.5L114.9 220.0L114.4 218.4L113.8 216.9L113.3 215.4L112.7 213.9L112.2 212.4L111.6 210.9L110.9 209.4L110.3 207.9L109.7 206.5L109.0 205.0L108.3 203.6L107.5 202.1L106.8 200.7L106.0 199.3L105.2 197.9L104.3 196.6L103.5 195.2L102.6 193.9L101.6 192.6L100.6 191.3L99.6 190.1L98.6 188.9L97.5 187.7L96.4 186.5L95.2 185.4L94.0 184.3L92.8 183.3L91.6 182.2L90.3 181.3L89.0 180.3L87.6 179.4L86.3 178.6L84.9 177.8L83.5 177.0L82.1 176.2L80.6 175.5L79.2 174.8L77.7 174.2L76.2 173.6L74.7 173.0L73.2 172.4L71.7 171.9L70.2 171.4L68.7 170.9L67.1 170.4L65.6 170.0L64.0 169.6L62.5 169.2L60.9 168.8L59.3 168.4L57.8 168.1L56.2 167.8L54.6 167.4L53.0 167.1L51.5 166.9L49.9 166.6L48.3 166.3L46.7 166.1L45.1 165.8L43.5 165.6L41.9 165.4L40.3 165.2L38.7 165.0L37.1 164.8L35.6 164.6L34.0 164.4L32.4 164.2L30.8 164.1L29.2 163.9L27.6 163.7L26.0 163.6L24.4 163.4"/>
<path d="M134.2 250.8L134.7 249.3L135.2 247.8L135.6 246.2L136.0 244.7L136.4 243.1L136.9 241.6L137.3 240.0L137.7 238.5L138.1 236.9L138.5 235.4L139.0 233.8L139.4 232.3L139.8 230.7L140.3 229.2L140.7 227.6L141.2 226.1L141.7 224.6L142.1 223.0L142.6 221.5L143.1 220.0L143.6 218.4L144.2 216.9L144.7 215.4L145.3 213.9L145.8 212.4L146.4 210.9L147.1 209.4L147.7 207.9L148.3 206.5L149.0 205.0L149.7 203.6L150.5 202.1L151.2 200.7L152.0 199.3L152.8 197.9L153.7 196.6L154.5 195.2L155.4 193.9L156.4 192.6L157.4 191.3L158.4 190.1L159.4 188.9L160.5 187.7L161.6 186.5L162.8 185.4L164.0 184.3L165.2 183.3L166.4 182.2L167.7 181.3L169.0 180.3L170.4 179.4L171.7 178.6L173.1 177.8L174.5 177.0L175.9 176.2L177.4 175.5L178.8 174.8L180.3 174.2L181.8 173.6L183.3 173.0L184.8 172.4L186.3 171.9L187.8 171.4L189.3 170.9L190.9 170.4L192.4 170.0L194.0 169.6L195.5 169.2L197.1 168.8L198.7 168.4L200.2 168.1L201.8 167.8L203.4 167.4L205.0 167.1L206.5 166.9L208.1 166.6L209.7 166.3L211.3 166.1L212.9 165.8L214.5 165.6L216.1 165.4L217.7 165.2L219.3 165.0L220.9 164.8L222.4 164.6L224.0 164.4L225.6 164.2L227.2 164.1L228.8 163.9L230.4 163.7L232.0 163.6L233.6 163.4"/>
<path d="M123.8 41.4L123.3 42.9L122.8 44.4L122.4 46.0L122.0 47.5L121.6 49.1L121.1 50.6L120.7 52.2L120.3 53.7L119.9 55.3L119.5 56.8L119.0 58.4L118.6 59.9L118.2 61.5L117.7 63.0L117.3 64.6L116.8 66.1L116.3 67.6L115.9 69.2L115.4 70.7L114.9 72.2L114.4 73.8L113.8 75.3L113.3 76.8L112.7 78.3L112.2 79.8L111.6 81.3L110.9 82.8L110.3 84.3L109.7 85.7L109.0 87.2L108.3 88.6L107.5 90.1L106.8 91.5L106.0 92.9L105.2 94.3L104.3 95.6L103.5 97.0L102.6 98.3L101.6 99.6L100.6 100.9L99.6 102.1L98.6 103.3L97.5 104.5L96.4 105.7L95.2 106.8L94.0 107.9L92.8 108.9L91.6 110.0L90.3 110.9L89.0 111.9L87.6 112.8L86.3 113.6L84.9 114.4L83.5 115.2L82.1 116.0L80.6 116.7L79.2 117.4L77.7 118.0L76.2 118.6L74.7 119.2L73.2 119.8L71.7 120.3L70.2 120.8L68.7 121.3L67.1 121.8L65.6 122.2L64.0 122.6L62.5 123.0L60.9 123.4L59.3 123.8L57.8 124.1L56.2 124.4L54.6 124.8L53.0 125.1L51.5 125.3L49.9 125.6L48.3 125.9L46.7 126.1L45.1 126.4L43.5 126.6L41.9 126.8L40.3 127.0L38.7 127.2L37.1 127.4L35.6 127.6L34.0 127.8L32.4 128.0L30.8 128.1L29.2 128.3L27.6 128.5L26.0 128.6L24.4 128.8"/>
<path d="M137.2 41.4L137.9 42.8L138.5 44.3L139.2 45.8L139.8 47.3L140.4 48.8L141.0 50.3L141.6 51.8L142.3 53.3L142.9 54.8L143.5 56.3L144.1 57.8L144.8 59.3L145.4 60.8L146.0 62.2L146.7 63.7L147.4 65.2L148.0 66.7L148.7 68.1L149.5 69.6L150.2 71.0L150.9 72.5L151.7 73.9L152.4 75.3L153.2 76.7L154.1 78.1L154.9 79.5L155.7 80.9L156.6 82.3L157.5 83.6L158.5 84.9L159.4 86.2L160.4 87.5L161.4 88.8L162.4 90.0L163.5 91.3L164.6 92.5L165.7 93.6L166.8 94.8L168.0 95.9L169.2 97.0L170.4 98.1L171.7 99.1L172.9 100.1L174.2 101.1L175.5 102.0L176.9 102.9L178.3 103.8L179.6 104.6L181.0 105.5L182.4 106.2L183.9 107.0L185.3 107.7L186.8 108.4L188.3 109.1L189.7 109.7L191.2 110.3L192.8 110.9L194.3 111.5L195.8 112.0L197.3 112.6L198.9 113.1L200.4 113.6L202.0 114.0L203.5 114.5L205.1 114.9L206.7 115.3L208.2 115.7L209.8 116.0L211.4 116.4L213.0 116.8L214.5 117.1L216.1 117.4L217.7 117.7L219.3 118.0L220.9 118.3L222.5 118.6L224.1 118.8L225.7 119.1L227.3 119.3L228.9 119.6L230.5 119.8L232.1 120.0L233.7 120.2"/>
<path d="M120.8 250.8L120.1 249.4L119.5 247.9L118.8 246.4L118.2 244.9L117.6 243.4L117.0 241.9L116.4 240.4L115.7 238.9L115.1 237.4L114.5 235.9L113.9 234.4L113.2 232.9L112.6 231.4L112.0 230.0L111.3 228.5L110.6 227.0L110.0 225.5L109.3 224.1L108.5 222.6L107.8 221.2L107.1 219.7L106.3 218.3L105.6 216.9L104.8 215.5L103.9 214.1L103.1 212.7L102.3 211.3L101.4 209.9L100.5 208.6L99.5 207.3L98.6 206.0L97.6 204.7L96.6 203.4L95.6 202.2L94.5 200.9L93.4 199.7L92.3 198.6L91.2 197.4L90.0 196.3L88.8 195.2L87.6 194.1L86.3 193.1L85.1 192.1L83.8 191.1L82.5 190.2L81.1 189.3L79.7 188.4L78.4 187.6L77.0 186.7L75.6 186.0L74.1 185.2L72.7 184.5L71.2 183.8L69.7 183.1L68.3 182.5L66.8 181.9L65.2 181.3L63.7 180.7L62.2 180.2L60.7 179.6L59.1 179.1L57.6 178.6L56.0 178.2L54.5 177.7L52.9 177.3L51.3 176.9L49.8 176.5L48.2 176.2L46.6 175.8L45.0 175.4L43.5 175.1L41.9 174.8L40.3 174.5L38.7 174.2L37.1 173.9L35.5 173.6L33.9 173.4L32.3 173.1L30.7 172.9L29.1 172.6L27.5 172.4L25.9 172.2L24.3 172.0"/>
<path d="M137.2 250.8L137.9 249.4L138.5 247.9L139.2 246.4L139.8 244.9L140.4 243.4L141.0 241.9L141.6 240.4L142.3 238.9L142.9 237.4L143.5 235.9L144.1 234.4L144.8 232.9L145.4 231.4L146.0 230.0L146.7 228.5L147.4 227.0L148.0 225.5L148.7 224.1L149.5 222.6L150.2 221.2L150.9 219.7L151.7 218.3L152.4 216.9L153.2 215.5L154.1 214.1L154.9 212.7L155.7 211.3L156.6 209.9L157.5 208.6L158.5 207.3L159.4 206.0L160.4 204.7L161.4 203.4L162.4 202.2L163.5 200.9L164.6 199.7L165.7 198.6L166.8 197.4L168.0 196.3L169.2 195.2L170.4 194.1L171.7 193.1L172.9 192.1L174.2 191.1L175.5 190.2L176.9 189.3L178.3 188.4L179.6 187.6L181.0 186.7L182.4 186.0L183.9 185.2L185.3 184.5L186.8 183.8L188.3 183.1L189.7 182.5L191.2 181.9L192.8 181.3L194.3 180.7L195.8 180.2L197.3 179.6L198.9 179.1L200.4 178.6L202.0 178.2L203.5 177.7L205.1 177.3L206.7 176.9L208.2 176.5L209.8 176.2L211.4 175.8L213.0 175.4L214.5 175.1L216.1 174.8L217.7 174.5L219.3 174.2L220.9 173.9L222.5 173.6L224.1 173.4L225.7 173.1L227.3 172.9L228.9 172.6L230.5 172.4L232.1 172.2L233.7 172.0"/>
<path d="M120.8 41.4L120.1 42.8L119.5 44.3L118.8 45.8L118.2 47.3L117.6 48.8L117.0 50.3L116.4 51.8L115.7 53.3L115.1 54.8L114.5 56.3L113.9 57.8L113.2 59.3L112.6 60.8L112.0 62.2L111.3 63.7L110.6 65.2L110.0 66.7L109.3 68.1L108.5 69.6L107.8 71.0L107.1 72.5L106.3 73.9L105.6 75.3L104.8 76.7L103.9 78.1L103.1 79.5L102.3 80.9L101.4 82.3L100.5 83.6L99.5 84.9L98.6 86.2L97.6 87.5L96.6 88.8L95.6 90.0L94.5 91.3L93.4 92.5L92.3 93.6L91.2 94.8L90.0 95.9L88.8 97.0L87.6 98.1L86.3 99.1L85.1 100.1L83.8 101.1L82.5 102.0L81.1 102.9L79.7 103.8L78.4 104.6L77.0 105.5L75.6 106.2L74.1 107.0L72.7 107.7L71.2 108.4L69.7 109.1L68.3 109.7L66.8 110.3L65.2 110.9L63.7 111.5L62.2 112.0L60.7 112.6L59.1 113.1L57.6 113.6L56.0 114.0L54.5 114.5L52.9 114.9L51.3 115.3L49.8 115.7L48.2 116.0L46.6 116.4L45.0 116.8L43.5 117.1L41.9 117.4L40.3 117.7L38.7 118.0L37.1 118.3L35.5 118.6L33.9 118.8L32.3 119.1L30.7 119.3L29.1 119.6L27.5 119.8L25.9 120.0L24.3 120.2"/>
<path d="M140.7 41.4L141.5 42.8L142.3 44.2L143.1 45.6L143.9 47.0L144.7 48.4L145.5 49.8L146.3 51.2L147.0 52.7L147.8 54.1L148.6 55.5L149.4 56.9L150.2 58.3L151.0 59.7L151.9 61.1L152.7 62.4L153.6 63.8L154.4 65.2L155.3 66.5L156.2 67.9L157.1 69.2L158.0 70.5L158.9 71.9L159.9 73.2L160.9 74.4L161.9 75.7L162.9 77.0L163.9 78.2L165.0 79.4L166.1 80.6L167.2 81.8L168.3 83.0L169.4 84.1L170.6 85.2L171.8 86.3L173.0 87.4L174.2 88.5L175.5 89.5L176.7 90.5L178.0 91.4L179.3 92.4L180.7 93.3L182.0 94.2L183.4 95.1L184.7 95.9L186.1 96.7L187.5 97.5L189.0 98.3L190.4 99.0L191.9 99.7L193.3 100.4L194.8 101.1L196.3 101.7L197.8 102.3L199.3 102.9L200.8 103.5L202.3 104.1L203.8 104.6L205.3 105.1L206.9 105.6L208.4 106.1L210.0 106.5L211.5 107.0L213.1 107.4L214.6 107.8L216.2 108.2L217.8 108.6L219.4 109.0L220.9 109.3L222.5 109.7L224.1 110.0L225.7 110.3L227.3 110.6L228.8 110.9L230.4 111.2L232.0 111.5L233.6 111.8"/>
<path d="M117.3 250.8L116.5 249.4L115.7 248.0L114.9 246.6L114.1 245.2L113.3 243.8L112.5 242.4L111.7 241.0L111.0 239.5L110.2 238.1L109.4 236.7L108.6 235.3L107.8 233.9L107.0 232.5L106.1 231.1L105.3 229.8L104.4 228.4L103.6 227.0L102.7 225.7L101.8 224.3L100.9 223.0L100.0 221.7L99.1 220.3L98.1 219.0L97.1 217.8L96.1 216.5L95.1 215.2L94.1 214.0L93.0 212.8L91.9 211.6L90.8 210.4L89.7 209.2L88.6 208.1L87.4 207.0L86.2 205.9L85.0 204.8L83.8 203.7L82.5 202.7L81.3 201.7L80.0 200.8L78.7 199.8L77.3 198.9L76.0 198.0L74.6 197.1L73.3 196.3L71.9 195.5L70.5 194.7L69.0 193.9L67.6 193.2L66.1 192.5L64.7 191.8L63.2 191.1L61.7 190.5L60.2 189.9L58.7 189.3L57.2 188.7L55.7 188.1L54.2 187.6L52.7 187.1L51.1 186.6L49.6 186.1L48.0 185.7L46.5 185.2L44.9 184.8L43.4 184.4L41.8 184.0L40.2 183.6L38.6 183.2L37.1 182.9L35.5 182.5L33.9 182.2L32.3 181.9L30.7 181.6L29.2 181.3L27.6 181.0L26.0 180.7L24.4 180.4"/>
<path d="M140.7 250.8L141.5 249.4L142.3 248.0L143.1 246.6L143.9 245.2L144.7 243.8L145.5 242.4L146.3 241.0L147.0 239.5L147.8 238.1L148.6 236.7L149.4 235.3L150.2 233.9L151.0 232.5L151.9 231.1L152.7 229.8L153.6 228.4L154.4 227.0L155.3 225.7L156.2 224.3L157.1 223.0L158.0 221.7L158.9 220.3L159.9 219.0L160.9 217.8L161.9 216.5L162.9 215.2L163.9 214.0L165.0 212.8L166.1 211.6L167.2 210.4L168.3 209.2L169.4 208.1L170.6 207.0L171.8 205.9L173.0 204.8L174.2 203.7L175.5 202.7L176.7 201.7L178.0 200.8L179.3 199.8L180.7 198.9L182.0 198.0L183.4 197.1L184.7 196.3L186.1 195.5L187.5 194.7L189.0 193.9L190.4 193.2L191.9 192.5L193.3 191.8L194.8 191.1L196.3 190.5L197.8 189.9L199.3 189.3L200.8 188.7L202.3 188.1L203.8 187.6L205.3 187.1L206.9 186.6L208.4 186.1L210.0 185.7L211.5 185.2L213.1 184.8L214.6 184.4L216.2 184.0L217.8 183.6L219.4 183.2L220.9 182.9L222.5 182.5L224.1 182.2L225.7 181.9L227.3 181.6L228.8 181.3L230.4 181.0L232.0 180.7L233.6 180.4"/>
<path d="M117.3 41.4L116.5 42.8L115.7 44.2L114.9 45.6L114.1 47.0L113.3 48.4L112.5 49.8L111.7 51.2L111.0 52.7L110.2 54.1L109.4 55.5L108.6 56.9L107.8 58.3L107.0 59.7L106.1 61.1L105.3 62.4L104.4 63.8L103.6 65.2L102.7 66.5L101.8 67.9L100.9 69.2L100.0 70.5L99.1 71.9L98.1 73.2L97.1 74.4L96.1 75.7L95.1 77.0L94.1 78.2L93.0 79.4L91.9 80.6L90.8 81.8L89.7 83.0L88.6 84.1L87.4 85.2L86.2 86.3L85.0 87.4L83.8 88.5L82.5 89.5L81.3 90.5L80.0 91.4L78.7 92.4L77.3 93.3L76.0 94.2L74.6 95.1L73.3 95.9L71.9 96.7L70.5 97.5L69.0 98.3L67.6 99.0L66.1 99.7L64.7 100.4L63.2 101.1L61.7 101.7L60.2 102.3L58.7 102.9L57.2 103.5L55.7 104.1L54.2 104.6L52.7 105.1L51.1 105.6L49.6 106.1L48.0 106.5L46.5 107.0L44.9 107.4L43.4 107.8L41.8 108.2L40.2 108.6L38.6 109.0L37.1 109.3L35.5 109.7L33.9 110.0L32.3 110.3L30.7 110.6L29.2 110.9L27.6 111.2L26.0 111.5L24.4 111.8"/>
<path d="M144.7 41.4L145.7 42.7L146.6 44.0L147.5 45.3L148.5 46.6L149.4 47.9L150.3 49.2L151.2 50.5L152.2 51.9L153.1 53.2L154.0 54.5L155.0 55.8L155.9 57.0L156.9 58.3L157.9 59.6L158.8 60.9L159.8 62.1L160.9 63.4L161.9 64.6L162.9 65.8L164.0 67.1L165.0 68.3L166.1 69.4L167.2 70.6L168.3 71.8L169.4 72.9L170.6 74.0L171.8 75.1L172.9 76.2L174.1 77.3L175.4 78.3L176.6 79.3L177.8 80.4L179.1 81.3L180.4 82.3L181.7 83.2L183.0 84.2L184.3 85.1L185.7 85.9L187.1 86.8L188.4 87.6L189.8 88.4L191.2 89.2L192.6 90.0L194.1 90.7L195.5 91.4L196.9 92.1L198.4 92.8L199.9 93.4L201.3 94.1L202.8 94.7L204.3 95.3L205.8 95.8L207.3 96.4L208.8 96.9L210.3 97.4L211.9 97.9L213.4 98.4L214.9 98.9L216.5 99.4L218.0 99.8L219.6 100.2L221.1 100.6L222.7 101.0L224.2 101.4L225.8 101.8L227.4 102.1L228.9 102.5L230.5 102.8L232.1 103.2L233.6 103.5"/>
<path d="M113.3 250.8L112.3 249.5L111.4 248.2L110.5 246.9L109.5 245.6L108.6 244.3L107.7 243.0L106.8 241.7L105.8 240.3L104.9 239.0L104.0 237.7L103.0 236.4L102.1 235.2L101.1 233.9L100.1 232.6L99.2 231.3L98.2 230.1L97.1 228.8L96.1 227.6L95.1 226.4L94.0 225.1L93.0 223.9L91.9 222.8L90.8 221.6L89.7 220.4L88.6 219.3L87.4 218.2L86.2 217.1L85.1 216.0L83.9 214.9L82.6 213.9L81.4 212.9L80.2 211.8L78.9 210.9L77.6 209.9L76.3 209.0L75.0 208.0L73.7 207.1L72.3 206.3L70.9 205.4L69.6 204.6L68.2 203.8L66.8 203.0L65.4 202.2L63.9 201.5L62.5 200.8L61.1 200.1L59.6 199.4L58.1 198.8L56.7 198.1L55.2 197.5L53.7 196.9L52.2 196.4L50.7 195.8L49.2 195.3L47.7 194.8L46.1 194.3L44.6 193.8L43.1 193.3L41.5 192.8L40.0 192.4L38.4 192.0L36.9 191.6L35.3 191.2L33.8 190.8L32.2 190.4L30.6 190.1L29.1 189.7L27.5 189.4L25.9 189.0L24.4 188.7"/>
<path d="M144.7 250.8L145.7 249.5L146.6 248.2L147.5 246.9L148.5 245.6L149.4 244.3L150.3 243.0L151.2 241.7L152.2 240.3L153.1 239.0L154.0 237.7L155.0 236.4L155.9 235.2L156.9 233.9L157.9 232.6L158.8 231.3L159.8 230.1L160.9 228.8L161.9 227.6L162.9 226.4L164.0 225.1L165.0 223.9L166.1 222.8L167.2 221.6L168.3 220.4L169.4 219.3L170.6 218.2L171.8 217.1L172.9 216.0L174.1 214.9L175.4 213.9L176.6 212.9L177.8 211.8L179.1 210.9L180.4 209.9L181.7 209.0L183.0 208.0L184.3 207.1L185.7 206.3L187.1 205.4L188.4 204.6L189.8 203.8L191.2 203.0L192.6 202.2L194.1 201.5L195.5 200.8L196.9 200.1L198.4 199.4L199.9 198.8L201.3 198.1L202.8 197.5L204.3 196.9L205.8 196.4L207.3 195.8L208.8 195.3L210.3 194.8L211.9 194.3L213.4 193.8L214.9 193.3L216.5 192.8L218.0 192.4L219.6 192.0L221.1 191.6L222.7 191.2L224.2 190.8L225.8 190.4L227.4 190.1L228.9 189.7L230.5 189.4L232.1 189.0L233.6 188.7"/>
<path d="M113.3 41.4L112.3 42.7L111.4 44.0L110.5 45.3L109.5 46.6L108.6 47.9L107.7 49.2L106.8 50.5L105.8 51.9L104.9 53.2L104.0 54.5L103.0 55.8L102.1 57.0L101.1 58.3L100.1 59.6L99.2 60.9L98.2 62.1L97.1 63.4L96.1 64.6L95.1 65.8L94.0 67.1L93.0 68.3L91.9 69.4L90.8 70.6L89.7 71.8L88.6 72.9L87.4 74.0L86.2 75.1L85.1 76.2L83.9 77.3L82.6 78.3L81.4 79.3L80.2 80.4L78.9 81.3L77.6 82.3L76.3 83.2L75.0 84.2L73.7 85.1L72.3 85.9L70.9 86.8L69.6 87.6L68.2 88.4L66.8 89.2L65.4 90.0L63.9 90.7L62.5 91.4L61.1 92.1L59.6 92.8L58.1 93.4L56.7 94.1L55.2 94.7L53.7 95.3L52.2 95.8L50.7 96.4L49.2 96.9L47.7 97.4L46.1 97.9L44.6 98.4L43.1 98.9L41.5 99.4L40.0 99.8L38.4 100.2L36.9 100.6L35.3 101.0L33.8 101.4L32.2 101.8L30.6 102.1L29.1 102.5L27.5 102.8L25.9 103.2L24.4 103.5"/>
<path d="M149.4 41.4L150.5 42.6L151.5 43.8L152.6 45.0L153.6 46.2L154.7 47.4L155.7 48.6L156.8 49.8L157.8 51.1L158.9 52.3L160.0 53.4L161.0 54.6L162.1 55.8L163.2 57.0L164.3 58.1L165.4 59.3L166.6 60.4L167.7 61.6L168.8 62.7L170.0 63.8L171.2 64.9L172.4 66.0L173.6 67.0L174.8 68.1L176.0 69.1L177.2 70.1L178.5 71.1L179.8 72.1L181.0 73.0L182.3 74.0L183.6 74.9L185.0 75.8L186.3 76.7L187.7 77.5L189.0 78.4L190.4 79.2L191.8 80.0L193.2 80.8L194.6 81.6L196.0 82.3L197.4 83.0L198.9 83.7L200.3 84.4L201.8 85.1L203.2 85.7L204.7 86.4L206.2 87.0L207.7 87.6L209.2 88.2L210.7 88.7L212.2 89.3L213.7 89.8L215.2 90.3L216.7 90.8L218.2 91.3L219.8 91.8L221.3 92.2L222.8 92.7L224.4 93.1L225.9 93.5L227.5 93.9L229.0 94.3L230.6 94.7L232.2 95.0L233.7 95.4"/>
<path d="M108.6 250.8L107.5 249.6L106.5 248.4L105.4 247.2L104.4 246.0L103.3 244.8L102.3 243.6L101.2 242.4L100.2 241.1L99.1 239.9L98.0 238.8L97.0 237.6L95.9 236.4L94.8 235.2L93.7 234.1L92.6 232.9L91.4 231.8L90.3 230.6L89.2 229.5L88.0 228.4L86.8 227.3L85.6 226.2L84.4 225.2L83.2 224.1L82.0 223.1L80.8 222.1L79.5 221.1L78.2 220.1L77.0 219.2L75.7 218.2L74.4 217.3L73.0 216.4L71.7 215.5L70.3 214.7L69.0 213.8L67.6 213.0L66.2 212.2L64.8 211.4L63.4 210.6L62.0 209.9L60.6 209.2L59.1 208.5L57.7 207.8L56.2 207.1L54.8 206.5L53.3 205.8L51.8 205.2L50.3 204.6L48.8 204.0L47.3 203.5L45.8 202.9L44.3 202.4L42.8 201.9L41.3 201.4L39.8 200.9L38.2 200.4L36.7 200.0L35.2 199.5L33.6 199.1L32.1 198.7L30.5 198.3L29.0 197.9L27.4 197.5L25.8 197.2L24.3 196.8"/>
<path d="M149.4 250.8L150.5 249.6L151.5 248.4L152.6 247.2L153.6 246.0L154.7 244.8L155.7 243.6L156.8 242.4L157.8 241.1L158.9 239.9L160.0 238.8L161.0 237.6L162.1 236.4L163.2 235.2L164.3 234.1L165.4 232.9L166.6 231.8L167.7 230.6L168.8 229.5L170.0 228.4L171.2 227.3L172.4 226.2L173.6 225.2L174.8 224.1L176.0 223.1L177.2 222.1L178.5 221.1L179.8 220.1L181.0 219.2L182.3 218.2L183.6 217.3L185.0 216.4L186.3 215.5L187.7 214.7L189.0 213.8L190.4 213.0L191.8 212.2L193.2 211.4L194.6 210.6L196.0 209.9L197.4 209.2L198.9 208.5L200.3 207.8L201.8 207.1L203.2 206.5L204.7 205.8L206.2 205.2L207.7 204.6L209.2 204.0L210.7 203.5L212.2 202.9L213.7 202.4L215.2 201.9L216.7 201.4L218.2 200.9L219.8 200.4L221.3 200.0L222.8 199.5L224.4 199.1L225.9 198.7L227.5 198.3L229.0 197.9L230.6 197.5L232.2 197.2L233.7 196.8"/>
<path d="M108.6 41.4L107.5 42.6L106.5 43.8L105.4 45.0L104.4 46.2L103.3 47.4L102.3 48.6L101.2 49.8L100.2 51.1L99.1 52.3L98.0 53.4L97.0 54.6L95.9 55.8L94.8 57.0L93.7 58.1L92.6 59.3L91.4 60.4L90.3 61.6L89.2 62.7L88.0 63.8L86.8 64.9L85.6 66.0L84.4 67.0L83.2 68.1L82.0 69.1L80.8 70.1L79.5 71.1L78.2 72.1L77.0 73.0L75.7 74.0L74.4 74.9L73.0 75.8L71.7 76.7L70.3 77.5L69.0 78.4L67.6 79.2L66.2 80.0L64.8 80.8L63.4 81.6L62.0 82.3L60.6 83.0L59.1 83.7L57.7 84.4L56.2 85.1L54.8 85.7L53.3 86.4L51.8 87.0L50.3 87.6L48.8 88.2L47.3 88.7L45.8 89.3L44.3 89.8L42.8 90.3L41.3 90.8L39.8 91.3L38.2 91.8L36.7 92.2L35.2 92.7L33.6 93.1L32.1 93.5L30.5 93.9L29.0 94.3L27.4 94.7L25.8 95.0L24.3 95.4"/>
<path d="M155.1 41.4L156.2 42.5L157.4 43.7L158.6 44.8L159.7 45.9L160.9 47.0L162.1 48.2L163.3 49.3L164.4 50.4L165.6 51.5L166.8 52.6L168.0 53.7L169.2 54.8L170.5 55.8L171.7 56.9L172.9 57.9L174.2 59.0L175.4 60.0L176.7 61.0L178.0 62.0L179.3 63.0L180.6 63.9L181.9 64.9L183.3 65.8L184.6 66.7L185.9 67.6L187.3 68.5L188.7 69.4L190.1 70.2L191.5 71.1L192.9 71.9L194.3 72.7L195.7 73.4L197.2 74.2L198.6 74.9L200.1 75.7L201.5 76.4L203.0 77.0L204.5 77.7L206.0 78.4L207.4 79.0L208.9 79.6L210.5 80.2L212.0 80.8L213.5 81.4L215.0 81.9L216.5 82.5L218.1 83.0L219.6 83.5L221.2 84.0L222.7 84.5L224.3 84.9L225.8 85.4L227.4 85.8L229.0 86.3L230.5 86.7L232.1 87.1L233.7 87.5"/>
<path d="M102.9 250.8L101.8 249.7L100.6 248.5L99.4 247.4L98.3 246.3L97.1 245.2L95.9 244.0L94.7 242.9L93.6 241.8L92.4 240.7L91.2 239.6L90.0 238.5L88.8 237.4L87.5 236.4L86.3 235.3L85.1 234.3L83.8 233.2L82.6 232.2L81.3 231.2L80.0 230.2L78.7 229.2L77.4 228.3L76.1 227.3L74.7 226.4L73.4 225.5L72.1 224.6L70.7 223.7L69.3 222.8L67.9 222.0L66.5 221.1L65.1 220.3L63.7 219.5L62.3 218.8L60.8 218.0L59.4 217.3L57.9 216.5L56.5 215.8L55.0 215.2L53.5 214.5L52.0 213.8L50.6 213.2L49.1 212.6L47.5 212.0L46.0 211.4L44.5 210.8L43.0 210.3L41.5 209.7L39.9 209.2L38.4 208.7L36.8 208.2L35.3 207.7L33.7 207.3L32.2 206.8L30.6 206.4L29.0 205.9L27.5 205.5L25.9 205.1L24.3 204.7"/>
<path d="M155.1 250.8L156.2 249.7L157.4 248.5L158.6 247.4L159.7 246.3L160.9 245.2L162.1 244.0L163.3 242.9L164.4 241.8L165.6 240.7L166.8 239.6L168.0 238.5L169.2 237.4L170.5 236.4L171.7 235.3L172.9 234.3L174.2 233.2L175.4 232.2L176.7 231.2L178.0 230.2L179.3 229.2L180.6 228.3L181.9 227.3L183.3 226.4L184.6 225.5L185.9 224.6L187.3 223.7L188.7 222.8L190.1 222.0L191.5 221.1L192.9 220.3L194.3 219.5L195.7 218.8L197.2 218.0L198.6 217.3L200.1 216.5L201.5 215.8L203.0 215.2L204.5 214.5L206.0 213.8L207.4 213.2L208.9 212.6L210.5 212.0L212.0 211.4L213.5 210.8L215.0 210.3L216.5 209.7L218.1 209.2L219.6 208.7L221.2 208.2L222.7 207.7L224.3 207.3L225.8 206.8L227.4 206.4L229.0 205.9L230.5 205.5L232.1 205.1L233.7 204.7"/>
<path d="M102.9 41.4L101.8 42.5L100.6 43.7L99.4 44.8L98.3 45.9L97.1 47.0L95.9 48.2L94.7 49.3L93.6 50.4L92.4 51.5L91.2 52.6L90.0 53.7L88.8 54.8L87.5 55.8L86.3 56.9L85.1 57.9L83.8 59.0L82.6 60.0L81.3 61.0L80.0 62.0L78.7 63.0L77.4 63.9L76.1 64.9L74.7 65.8L73.4 66.7L72.1 67.6L70.7 68.5L69.3 69.4L67.9 70.2L66.5 71.1L65.1 71.9L63.7 72.7L62.3 73.4L60.8 74.2L59.4 74.9L57.9 75.7L56.5 76.4L55.0 77.0L53.5 77.7L52.0 78.4L50.6 79.0L49.1 79.6L47.5 80.2L46.0 80.8L44.5 81.4L43.0 81.9L41.5 82.5L39.9 83.0L38.4 83.5L36.8 84.0L35.3 84.5L33.7 84.9L32.2 85.4L30.6 85.8L29.0 86.3L27.5 86.7L25.9 87.1L24.3 87.5"/>
<path d="M161.7 41.3L162.9 42.4L164.2 43.4L165.4 44.4L166.7 45.5L167.9 46.5L169.2 47.5L170.5 48.5L171.7 49.5L173.0 50.5L174.3 51.5L175.6 52.4L176.9 53.4L178.2 54.3L179.5 55.3L180.8 56.2L182.2 57.1L183.5 58.0L184.9 58.9L186.2 59.8L187.6 60.6L189.0 61.4L190.4 62.3L191.8 63.1L193.2 63.9L194.6 64.7L196.0 65.4L197.4 66.2L198.9 66.9L200.3 67.6L201.8 68.3L203.2 69.0L204.7 69.7L206.2 70.4L207.7 71.0L209.1 71.6L210.6 72.2L212.1 72.8L213.6 73.4L215.2 74.0L216.7 74.5L218.2 75.1L219.7 75.6L221.2 76.1L222.8 76.6L224.3 77.1L225.9 77.6L227.4 78.0L229.0 78.5L230.5 78.9L232.1 79.3L233.6 79.8"/>
<path d="M96.3 250.9L95.1 249.8L93.8 248.8L92.6 247.8L91.3 246.7L90.1 245.7L88.8 244.7L87.5 243.7L86.3 242.7L85.0 241.7L83.7 240.7L82.4 239.8L81.1 238.8L79.8 237.9L78.5 236.9L77.2 236.0L75.8 235.1L74.5 234.2L73.1 233.3L71.8 232.4L70.4 231.6L69.0 230.8L67.6 229.9L66.2 229.1L64.8 228.3L63.4 227.5L62.0 226.8L60.6 226.0L59.1 225.3L57.7 224.6L56.2 223.9L54.8 223.2L53.3 222.5L51.8 221.8L50.3 221.2L48.9 220.6L47.4 220.0L45.9 219.4L44.4 218.8L42.8 218.2L41.3 217.7L39.8 217.1L38.3 216.6L36.8 216.1L35.2 215.6L33.7 215.1L32.1 214.6L30.6 214.2L29.0 213.7L27.5 213.3L25.9 212.9L24.4 212.4"/>
<path d="M161.7 250.9L162.9 249.8L164.2 248.8L165.4 247.8L166.7 246.7L167.9 245.7L169.2 244.7L170.5 243.7L171.7 242.7L173.0 241.7L174.3 240.7L175.6 239.8L176.9 238.8L178.2 237.9L179.5 236.9L180.8 236.0L182.2 235.1L183.5 234.2L184.9 233.3L186.2 232.4L187.6 231.6L189.0 230.8L190.4 229.9L191.8 229.1L193.2 228.3L194.6 227.5L196.0 226.8L197.4 226.0L198.9 225.3L200.3 224.6L201.8 223.9L203.2 223.2L204.7 222.5L206.2 221.8L207.7 221.2L209.1 220.6L210.6 220.0L212.1 219.4L213.6 218.8L215.2 218.2L216.7 217.7L218.2 217.1L219.7 216.6L221.2 216.1L222.8 215.6L224.3 215.1L225.9 214.6L227.4 214.2L229.0 213.7L230.5 213.3L232.1 212.9L233.6 212.4"/>
<path d="M96.3 41.3L95.1 42.4L93.8 43.4L92.6 44.4L91.3 45.5L90.1 46.5L88.8 47.5L87.5 48.5L86.3 49.5L85.0 50.5L83.7 51.5L82.4 52.4L81.1 53.4L79.8 54.3L78.5 55.3L77.2 56.2L75.8 57.1L74.5 58.0L73.1 58.9L71.8 59.8L70.4 60.6L69.0 61.4L67.6 62.3L66.2 63.1L64.8 63.9L63.4 64.7L62.0 65.4L60.6 66.2L59.1 66.9L57.7 67.6L56.2 68.3L54.8 69.0L53.3 69.7L51.8 70.4L50.3 71.0L48.9 71.6L47.4 72.2L45.9 72.8L44.4 73.4L42.8 74.0L41.3 74.5L39.8 75.1L38.3 75.6L36.8 76.1L35.2 76.6L33.7 77.1L32.1 77.6L30.6 78.0L29.0 78.5L27.5 78.9L25.9 79.3L24.4 79.8"/>
<path d="M169.7 41.4L171.1 42.3L172.4 43.3L173.7 44.2L175.1 45.1L176.4 46.0L177.8 46.9L179.1 47.8L180.5 48.7L181.8 49.6L183.2 50.5L184.6 51.3L186.0 52.2L187.4 53.0L188.8 53.8L190.2 54.6L191.6 55.4L193.0 56.2L194.4 57.0L195.9 57.7L197.3 58.5L198.8 59.2L200.2 59.9L201.7 60.6L203.2 61.3L204.6 62.0L206.1 62.6L207.6 63.3L209.1 63.9L210.6 64.5L212.1 65.1L213.6 65.7L215.2 66.3L216.7 66.9L218.2 67.4L219.7 68.0L221.3 68.5L222.8 69.0L224.4 69.5L225.9 70.0L227.5 70.5L229.0 70.9L230.6 71.4L232.1 71.8L233.7 72.3"/>
<path d="M88.3 250.8L86.9 249.9L85.6 248.9L84.3 248.0L82.9 247.1L81.6 246.2L80.2 245.3L78.9 244.4L77.5 243.5L76.2 242.6L74.8 241.7L73.4 240.9L72.0 240.0L70.6 239.2L69.2 238.4L67.8 237.6L66.4 236.8L65.0 236.0L63.6 235.2L62.1 234.5L60.7 233.7L59.2 233.0L57.8 232.3L56.3 231.6L54.8 230.9L53.4 230.2L51.9 229.6L50.4 228.9L48.9 228.3L47.4 227.7L45.9 227.1L44.4 226.5L42.8 225.9L41.3 225.3L39.8 224.8L38.3 224.2L36.7 223.7L35.2 223.2L33.6 222.7L32.1 222.2L30.5 221.7L29.0 221.3L27.4 220.8L25.9 220.4L24.3 219.9"/>
<path d="M169.7 250.8L171.1 249.9L172.4 248.9L173.7 248.0L175.1 247.1L176.4 246.2L177.8 245.3L179.1 244.4L180.5 243.5L181.8 242.6L183.2 241.7L184.6 240.9L186.0 240.0L187.4 239.2L188.8 238.4L190.2 237.6L191.6 236.8L193.0 236.0L194.4 235.2L195.9 234.5L197.3 233.7L198.8 233.0L200.2 232.3L201.7 231.6L203.2 230.9L204.6 230.2L206.1 229.6L207.6 228.9L209.1 228.3L210.6 227.7L212.1 227.1L213.6 226.5L215.2 225.9L216.7 225.3L218.2 224.8L219.7 224.2L221.3 223.7L222.8 223.2L224.4 222.7L225.9 222.2L227.5 221.7L229.0 221.3L230.6 220.8L232.1 220.4L233.7 219.9"/>
<path d="M88.3 41.4L86.9 42.3L85.6 43.3L84.3 44.2L82.9 45.1L81.6 46.0L80.2 46.9L78.9 47.8L77.5 48.7L76.2 49.6L74.8 50.5L73.4 51.3L72.0 52.2L70.6 53.0L69.2 53.8L67.8 54.6L66.4 55.4L65.0 56.2L63.6 57.0L62.1 57.7L60.7 58.5L59.2 59.2L57.8 59.9L56.3 60.6L54.8 61.3L53.4 62.0L51.9 62.6L50.4 63.3L48.9 63.9L47.4 64.5L45.9 65.1L44.4 65.7L42.8 66.3L41.3 66.9L39.8 67.4L38.3 68.0L36.7 68.5L35.2 69.0L33.6 69.5L32.1 70.0L30.5 70.5L29.0 70.9L27.4 71.4L25.9 71.8L24.3 72.3"/>
</g>
<g font-size="6.4" fill="#9c9c9c">
<text transform="translate(156.70 44.60) rotate(-90) scale(1.05 1)" text-anchor="start">0.12</text>
<text transform="translate(156.70 248.90) rotate(-90) scale(1.05 1)" text-anchor="end">0.12</text>
<text transform="translate(170.70 44.60) rotate(-90) scale(1.05 1)" text-anchor="start">0.14</text>
<text transform="translate(170.10 248.90) rotate(-90) scale(1.05 1)" text-anchor="end">0.14</text>
<text transform="translate(184.00 44.60) rotate(-90) scale(1.05 1)" text-anchor="start">0.16</text>
<text transform="translate(183.60 248.90) rotate(-90) scale(1.05 1)" text-anchor="end">0.16</text>
<text transform="translate(197.00 44.60) rotate(-90) scale(1.05 1)" text-anchor="start">0.18</text>
<text transform="translate(197.10 248.90) rotate(-90) scale(1.05 1)" text-anchor="end">0.18</text>
<text transform="translate(210.90 44.60) rotate(-90) scale(1.05 1)" text-anchor="start">0.20</text>
<text transform="translate(210.60 248.90) rotate(-90) scale(1.05 1)" text-anchor="end">0.20</text>
<text transform="translate(224.30 44.60) rotate(-90) scale(1.05 1)" text-anchor="start">0.22</text>
<text transform="translate(223.80 248.90) rotate(-90) scale(1.05 1)" text-anchor="end">0.22</text>
<text transform="translate(234.00 157.00) scale(1.050 1)" text-anchor="start">0.02</text>
<text transform="translate(26.90 139.10) scale(1.050 1)" text-anchor="end">0.02</text>
<text transform="translate(234.00 165.90) scale(1.050 1)" text-anchor="start">0.04</text>
<text transform="translate(26.90 130.30) scale(1.050 1)" text-anchor="end">0.04</text>
<text transform="translate(234.00 174.80) scale(1.050 1)" text-anchor="start">0.06</text>
<text transform="translate(26.90 120.90) scale(1.050 1)" text-anchor="end">0.06</text>
<text transform="translate(234.00 183.30) scale(1.050 1)" text-anchor="start">0.08</text>
<text transform="translate(26.90 112.60) scale(1.050 1)" text-anchor="end">0.08</text>
<text transform="translate(234.00 192.20) scale(1.050 1)" text-anchor="start">0.10</text>
<text transform="translate(26.90 103.60) scale(1.050 1)" text-anchor="end">0.10</text>
<text transform="translate(234.00 198.40) scale(1.050 1)" text-anchor="start">0.12</text>
<text transform="translate(26.90 95.30) scale(1.050 1)" text-anchor="end">0.12</text>
<text transform="translate(234.00 205.90) scale(1.050 1)" text-anchor="start">0.14</text>
<text transform="translate(26.90 88.80) scale(1.050 1)" text-anchor="end">0.14</text>
<text transform="translate(234.00 213.70) scale(1.050 1)" text-anchor="start">0.16</text>
<text transform="translate(26.90 81.50) scale(1.050 1)" text-anchor="end">0.16</text>
<text transform="translate(234.00 223.40) scale(1.050 1)" text-anchor="start">0.18</text>
<text transform="translate(26.90 72.50) scale(1.050 1)" text-anchor="end">0.18</text>
<g transform="translate(173.95 26.8)" fill="#9c9c9c" stroke="#9c9c9c" stroke-width="0.12"><text transform="translate(0.00 0.00) scale(0.860 1)" text-anchor="start" font-size="7.30">Re</text><text transform="translate(7.56 0.66) scale(0.792 1)" text-anchor="start" font-size="9.22" fill="#9c9c9c">(</text><text transform="translate(10.13 -0.06) scale(1.232 1)" text-anchor="start" font-size="6.04" font-style="italic" fill="#9c9c9c">a</text><text transform="translate(13.60 0.95) scale(1.169 1)" text-anchor="start" font-size="5.26" font-style="italic" fill="#9c9c9c">t</text><text transform="translate(15.98 1.90) scale(0.898 1)" text-anchor="start" font-size="9.24" fill="#9c9c9c">√</text><text transform="translate(21.17 -0.06) scale(1.324 1)" text-anchor="start" font-size="6.04" font-style="italic" fill="#9c9c9c">s</text><line x1="20.4" y1="-5.2" x2="24.6" y2="-5.2" stroke="#9c9c9c" stroke-width="0.45"/><text transform="translate(24.12 0.66) scale(0.813 1)" text-anchor="start" font-size="9.22" fill="#9c9c9c">)</text></g>
<g transform="translate(12.2 124.6) rotate(-90)" fill="#9c9c9c" stroke="#9c9c9c" stroke-width="0.12"><text transform="translate(0.00 0.00) scale(1.000 1)" text-anchor="start" font-size="7.00">−2</text><text transform="translate(8.20 0.00) scale(1.000 1)" text-anchor="start" font-size="7.00">·</text><g transform="translate(10.9 0)"><text transform="translate(0.00 0.00) scale(0.860 1)" text-anchor="start" font-size="7.30">Im</text><text transform="translate(7.56 0.66) scale(0.792 1)" text-anchor="start" font-size="9.22" fill="#9c9c9c">(</text><text transform="translate(10.13 -0.06) scale(1.232 1)" text-anchor="start" font-size="6.04" font-style="italic" fill="#9c9c9c">a</text><text transform="translate(13.60 0.95) scale(1.169 1)" text-anchor="start" font-size="5.26" font-style="italic" fill="#9c9c9c">t</text><text transform="translate(15.98 1.90) scale(0.898 1)" text-anchor="start" font-size="9.24" fill="#9c9c9c">√</text><text transform="translate(21.17 -0.06) scale(1.324 1)" text-anchor="start" font-size="6.04" font-style="italic" fill="#9c9c9c">s</text><line x1="20.4" y1="-5.2" x2="24.6" y2="-5.2" stroke="#9c9c9c" stroke-width="0.45"/><text transform="translate(24.12 0.66) scale(0.813 1)" text-anchor="start" font-size="9.22" fill="#9c9c9c">)</text></g></g>
</g>
<line x1="141.24" y1="169.99" x2="141.24" y2="246.14" stroke="#e8959a" stroke-width="1.5"/>
<line x1="152.54" y1="173.64" x2="152.54" y2="246.14" stroke="#f57a20" stroke-width="1.0"/>
<line x1="164.31" y1="168.46" x2="164.31" y2="246.14" stroke="#5f9636" stroke-width="1.1"/>
<line x1="176.08" y1="157.52" x2="176.08" y2="246.14" stroke="#8cbcc0" stroke-width="1.5"/>
<line x1="187.85" y1="164.23" x2="187.85" y2="246.14" stroke="#b050bc" stroke-width="1.2"/>
<line x1="199.62" y1="164.23" x2="199.62" y2="246.14" stroke="#333" stroke-width="1.0"/>
<g stroke="#3c3c3c" fill="none">
<line x1="28.95" y1="146.20" x2="229.05" y2="146.20" stroke-width="1.05"/>
<line x1="129.10" y1="46.05" x2="129.10" y2="246.14" stroke-width="1.4"/>
</g><g stroke="#111" stroke-width="1.1">
<line x1="34.84" y1="142.10" x2="34.84" y2="149.60"/>
<line x1="125.40" y1="240.26" x2="129.00" y2="240.26"/>
<line x1="58.38" y1="142.10" x2="58.38" y2="149.60"/>
<line x1="125.40" y1="216.72" x2="129.00" y2="216.72"/>
<line x1="81.92" y1="142.10" x2="81.92" y2="149.60"/>
<line x1="125.40" y1="193.18" x2="129.00" y2="193.18"/>
<line x1="105.46" y1="142.10" x2="105.46" y2="149.60"/>
<line x1="125.40" y1="169.64" x2="129.00" y2="169.64"/>
<line x1="152.54" y1="142.10" x2="152.54" y2="149.60"/>
<line x1="125.40" y1="122.56" x2="129.00" y2="122.56"/>
<line x1="176.08" y1="142.10" x2="176.08" y2="149.60"/>
<line x1="125.40" y1="99.02" x2="129.00" y2="99.02"/>
<line x1="199.62" y1="142.10" x2="199.62" y2="149.60"/>
<line x1="125.40" y1="75.48" x2="129.00" y2="75.48"/>
<line x1="223.16" y1="142.10" x2="223.16" y2="149.60"/>
<line x1="125.40" y1="51.94" x2="129.00" y2="51.94"/>
</g>
<g font-size="9.8" fill="#000">
<text transform="translate(34.54 158.90) scale(1.050 1)" text-anchor="middle">-<tspan dx="-0.60">0.08</tspan></text>
<text transform="translate(124.40 242.76) scale(1.080 1)" text-anchor="end">-<tspan dx="-1.10">0.08</tspan></text>
<text transform="translate(58.08 158.90) scale(1.050 1)" text-anchor="middle">-<tspan dx="-0.60">0.06</tspan></text>
<text transform="translate(124.40 219.22) scale(1.080 1)" text-anchor="end">-<tspan dx="-1.10">0.06</tspan></text>
<text transform="translate(81.62 158.90) scale(1.050 1)" text-anchor="middle">-<tspan dx="-0.60">0.04</tspan></text>
<text transform="translate(124.40 195.68) scale(1.080 1)" text-anchor="end">-<tspan dx="-1.10">0.04</tspan></text>
<text transform="translate(105.16 158.90) scale(1.050 1)" text-anchor="middle">-<tspan dx="-0.60">0.02</tspan></text>
<text transform="translate(124.40 172.14) scale(1.080 1)" text-anchor="end">-<tspan dx="-1.10">0.02</tspan></text>
<text transform="translate(153.14 158.90) scale(1.050 1)" text-anchor="middle">0.02</text>
<text transform="translate(124.40 125.06) scale(1.080 1)" text-anchor="end">0.02</text>
<text transform="translate(176.68 158.90) scale(1.050 1)" text-anchor="middle">0.04</text>
<text transform="translate(124.40 101.52) scale(1.080 1)" text-anchor="end">0.04</text>
<text transform="translate(200.22 158.90) scale(1.050 1)" text-anchor="middle">0.06</text>
<text transform="translate(124.40 77.98) scale(1.080 1)" text-anchor="end">0.06</text>
<text transform="translate(223.76 158.90) scale(1.050 1)" text-anchor="middle">0.08</text>
<text transform="translate(124.40 54.44) scale(1.080 1)" text-anchor="end">0.08</text>
</g>
<circle cx="171.84" cy="146.10" r="2.1" fill="#fff" stroke="#bbb" stroke-width="0.8"/>
<circle cx="129.00" cy="146.10" r="2.1" fill="#fff" stroke="#111" stroke-width="1"/>
<circle cx="129.00" cy="66.18" r="2.1" fill="#fff" stroke="#111" stroke-width="1"/>
<circle cx="93.6" cy="109.4" r="2.4" fill="#000"/>
<g fill="#222">
<text transform="translate(133.0 145.0) rotate(-45)" font-size="7.4" textLength="25" lengthAdjust="spacingAndGlyphs"><tspan font-style="italic">KK</tspan><tspan font-size="9.5" dy="1.2">|</tspan><tspan font-size="5.4" dy="0.6">thr.</tspan></text>
<line x1="134.6" y1="135.6" x2="138.2" y2="132.0" stroke="#222" stroke-width="0.5"/>
<text transform="translate(130.9 69.6) rotate(45)" font-size="7.2" textLength="20.5" lengthAdjust="spacingAndGlyphs"><tspan font-style="italic">ππ</tspan><tspan font-size="8.5" dy="1.0">|</tspan><tspan font-size="5.6" dy="0.6">thr.</tspan></text>
</g>
<text transform="translate(175.2 143.6) rotate(-38)" font-size="6.2" fill="#c4c4c4" textLength="16" lengthAdjust="spacingAndGlyphs"><tspan font-style="italic">ηη</tspan><tspan font-size="8" dy="1">|</tspan><tspan font-size="4.6" dy="0.5">thr.</tspan></text>
<g fill="#222" font-size="11.30"><text transform="translate(102.00 38.70) scale(1.000 1)" text-anchor="start">Im</text><text transform="translate(114.47 39.75) scale(0.794 1)" text-anchor="start" font-size="13.56">(</text><text transform="translate(118.41 38.70) scale(1.019 1)" text-anchor="start" font-size="9.58" font-style="italic" stroke="#222" stroke-width="0.15">a</text><text transform="translate(123.36 40.43) scale(1.237 1)" text-anchor="start" font-size="6.84" font-style="italic" stroke="#222" stroke-width="0.15">t</text><text transform="translate(127.17 38.80) scale(1.126 1)" text-anchor="start" font-size="9.71" font-style="italic" stroke="#222" stroke-width="0.15">k</text><text transform="translate(133.28 41.90) scale(1.076 1)" text-anchor="start" font-size="7.23" font-style="italic" stroke="#222" stroke-width="0.12">K</text><text transform="translate(140.59 41.90) scale(1.191 1)" text-anchor="start" font-size="7.23" font-style="italic" stroke="#222" stroke-width="0.12">K</text><line x1="142.00" y1="35.20" x2="146.80" y2="35.20" stroke="#222" stroke-width="0.6"/><text transform="translate(147.27 39.75) scale(0.823 1)" text-anchor="start" font-size="13.56">)</text></g>
<g fill="#222" font-size="11.30"><text transform="translate(207.00 137.00) scale(1.000 1)" text-anchor="start">Re</text><text transform="translate(219.77 138.05) scale(0.794 1)" text-anchor="start" font-size="13.56">(</text><text transform="translate(223.71 137.00) scale(1.019 1)" text-anchor="start" font-size="9.58" font-style="italic" stroke="#222" stroke-width="0.15">a</text><text transform="translate(228.66 138.73) scale(1.237 1)" text-anchor="start" font-size="6.84" font-style="italic" stroke="#222" stroke-width="0.15">t</text><text transform="translate(232.47 137.10) scale(1.126 1)" text-anchor="start" font-size="9.71" font-style="italic" stroke="#222" stroke-width="0.15">k</text><text transform="translate(238.58 140.20) scale(1.076 1)" text-anchor="start" font-size="7.23" font-style="italic" stroke="#222" stroke-width="0.12">K</text><text transform="translate(245.89 140.20) scale(1.191 1)" text-anchor="start" font-size="7.23" font-style="italic" stroke="#222" stroke-width="0.12">K</text><line x1="247.30" y1="133.50" x2="252.10" y2="133.50" stroke="#222" stroke-width="0.6"/><text transform="translate(252.57 138.05) scale(0.823 1)" text-anchor="start" font-size="13.56">)</text></g>
<line x1="271.80" y1="201.20" x2="680.25" y2="201.20" stroke="#a4a4a4" stroke-width="1.2" stroke-dasharray="4.4 3.7"/>
<path d="M271.70 121.40 L273.02 120.69 L274.34 119.98 L275.66 119.28 L276.99 118.58 L278.32 117.89 L279.65 117.19 L280.98 116.51 L282.31 115.82 L283.64 115.14 L284.98 114.46 L286.32 113.78 L287.65 113.11 L288.99 112.44 L290.34 111.77 L291.68 111.11 L293.02 110.45 L294.37 109.79 L295.72 109.13 L297.06 108.48 L298.41 107.83 L299.77 107.18 L301.12 106.53 L302.47 105.89 L303.83 105.25 L305.18 104.61 L306.54 103.98 L307.90 103.35 L309.26 102.72 L310.62 102.10 L311.99 101.48 L313.36 100.87 L314.72 100.26 L316.10 99.66 L317.47 99.06 L318.85 98.47 L320.23 97.89 L321.61 97.31 L323.00 96.74 L324.39 96.18 L325.78 95.62 L327.17 95.08 L328.57 94.54 L329.97 94.00 L331.38 93.48 L332.78 92.96 L334.19 92.45 L335.60 91.95 L337.02 91.46 L338.44 90.98 L339.86 90.50 L341.29 90.04 L342.71 89.58 L344.14 89.14 L345.58 88.70 L347.02 88.28 L348.46 87.87 L349.90 87.46 L351.35 87.07 L352.80 86.69 L354.25 86.31 L355.70 85.96 L357.16 85.61 L358.62 85.27 L360.09 84.95 L361.55 84.64 L363.02 84.35 L364.50 84.06 L365.97 83.79 L367.45 83.54 L368.93 83.30 L370.41 83.08 L371.89 82.86 L373.38 82.67 L374.86 82.48 L376.35 82.31 L377.84 82.16 L379.34 82.01 L380.83 81.88 L382.32 81.75 L383.82 81.64 L385.31 81.54 L386.81 81.45 L388.31 81.37 L389.81 81.31 L391.30 81.26 L392.80 81.22 L394.30 81.20 L395.80 81.20 L397.29 81.22 L398.79 81.26 L400.29 81.31 L401.79 81.39 L403.28 81.48 L404.78 81.59 L406.27 81.71 L407.77 81.85 L409.26 82.00 L410.75 82.16 L412.24 82.33 L413.73 82.52 L415.21 82.71 L416.70 82.92 L418.18 83.13 L419.66 83.35 L421.14 83.57 L422.62 83.79 L424.10 84.02 L425.59 84.25 L427.07 84.49 L428.55 84.72 L430.03 84.95 L431.51 85.18 L432.99 85.41 L434.47 85.64 L435.95 85.87 L437.43 86.10 L438.91 86.34 L440.39 86.58 L441.87 86.82 L443.35 87.06 L444.82 87.30 L446.30 87.55 L447.78 87.80 L449.25 88.06 L450.73 88.31 L452.21 88.57 L453.68 88.82 L455.16 89.08 L456.64 89.33 L458.11 89.58 L459.59 89.83 L461.07 90.07 L462.55 90.31 L464.03 90.55 L465.51 90.78 L466.99 91.01 L468.47 91.23 L469.95 91.45 L471.44 91.67 L472.92 91.88 L474.40 92.10 L475.89 92.31 L477.37 92.51 L478.85 92.72 L480.34 92.92 L481.82 93.12 L483.31 93.31 L484.80 93.50 L486.28 93.68 L487.77 93.86 L489.26 94.02 L490.75 94.18 L492.24 94.32 L493.74 94.45 L495.23 94.56 L496.73 94.66 L498.22 94.73 L499.72 94.78 L501.22 94.80 L502.72 94.79 L504.22 94.75 L505.72 94.69 L507.22 94.59 L508.72 94.45 L510.21 94.29 L511.70 94.09 L513.18 93.86 L514.65 93.59 L516.12 93.29 L517.58 92.96 L519.04 92.62 L520.50 92.29 L521.97 91.96 L523.43 91.62 L524.89 91.27 L526.34 90.88 L527.77 90.45 L529.18 89.95 L530.57 89.39 L531.93 88.78 L533.28 88.12 L534.61 87.41 L535.92 86.67 L537.22 85.91 L538.50 85.13 L539.77 84.32 L541.02 83.49 L542.25 82.63 L543.45 81.75 L544.63 80.83 L545.79 79.87 L546.92 78.88 L548.01 77.86 L549.08 76.80 L550.12 75.72 L551.13 74.61 L552.11 73.46 L553.05 72.30 L553.97 71.11 L554.86 69.89 L555.71 68.66 L556.54 67.41 L557.33 66.14 L558.10 64.85 L558.85 63.54 L559.56 62.23 L560.25 60.89 L560.92 59.55 L561.56 58.20 L562.19 56.84 L562.79 55.47 L563.38 54.09 L563.95 52.70 L564.51 51.31 L565.06 49.92 L565.61 48.52 L566.14 47.12 L566.68 45.72 L567.21 44.32 L567.74 42.92 L568.27 41.52 L568.80 40.11 L569.33 38.71 L569.86 37.31 L570.39 35.91 L570.91 34.50 L571.43 33.10 L571.95 31.69 L572.47 30.29 L572.98 28.88 L573.49 27.47 L574.00 26.06 L574.51 24.65 L575.01 23.24 L575.51 21.83 L576.01 20.42 L576.50 19.00" fill="none" stroke="#c62f3c" stroke-width="1.05"/>
<path d="M271.70 137.60 L273.18 137.38 L274.66 137.16 L276.14 136.94 L277.62 136.71 L279.10 136.48 L280.58 136.25 L282.06 136.02 L283.54 135.78 L285.01 135.55 L286.49 135.32 L287.97 135.08 L289.45 134.85 L290.93 134.62 L292.41 134.39 L293.89 134.17 L295.37 133.95 L296.85 133.73 L298.33 133.52 L299.81 133.31 L301.30 133.11 L302.78 132.92 L304.27 132.73 L305.75 132.55 L307.24 132.37 L308.73 132.20 L310.21 132.03 L311.70 131.87 L313.19 131.71 L314.68 131.56 L316.17 131.40 L317.66 131.25 L319.15 131.11 L320.64 130.96 L322.13 130.82 L323.62 130.68 L325.11 130.54 L326.60 130.41 L328.09 130.27 L329.58 130.14 L331.07 130.02 L332.56 129.89 L334.06 129.77 L335.55 129.65 L337.04 129.53 L338.53 129.42 L340.03 129.31 L341.52 129.21 L343.01 129.11 L344.51 129.02 L346.00 128.93 L347.50 128.86 L348.99 128.79 L350.49 128.74 L351.98 128.69 L353.48 128.65 L354.98 128.63 L356.47 128.61 L357.97 128.60 L359.47 128.60 L360.97 128.60 L362.46 128.62 L363.96 128.64 L365.46 128.67 L366.95 128.70 L368.45 128.75 L369.94 128.81 L371.44 128.89 L372.93 128.97 L374.43 129.07 L375.92 129.17 L377.41 129.29 L378.90 129.41 L380.40 129.54 L381.89 129.67 L383.38 129.81 L384.87 129.95 L386.36 130.08 L387.85 130.22 L389.34 130.35 L390.83 130.49 L392.32 130.63 L393.81 130.77 L395.30 130.91 L396.79 131.06 L398.28 131.21 L399.77 131.37 L401.26 131.53 L402.74 131.71 L404.23 131.88 L405.72 132.07 L407.20 132.27 L408.68 132.47 L410.17 132.68 L411.65 132.90 L413.13 133.13 L414.60 133.37 L416.08 133.61 L417.56 133.87 L419.03 134.13 L420.50 134.40 L421.97 134.68 L423.44 134.97 L424.91 135.26 L426.38 135.56 L427.84 135.86 L429.31 136.17 L430.77 136.47 L432.24 136.78 L433.70 137.08 L435.17 137.39 L436.64 137.69 L438.10 137.99 L439.57 138.28 L441.04 138.57 L442.51 138.86 L443.98 139.15 L445.44 139.44 L446.91 139.73 L448.38 140.01 L449.85 140.30 L451.32 140.59 L452.79 140.88 L454.26 141.17 L455.72 141.46 L457.19 141.76 L458.66 142.06 L460.13 142.35 L461.59 142.65 L463.06 142.95 L464.52 143.26 L465.99 143.56 L467.46 143.86 L468.92 144.16 L470.39 144.46 L471.86 144.76 L473.32 145.06 L474.79 145.36 L476.26 145.66 L477.72 145.96 L479.19 146.25 L480.66 146.54 L482.13 146.82 L483.60 147.10 L485.07 147.37 L486.54 147.64 L488.02 147.91 L489.49 148.17 L490.97 148.42 L492.44 148.66 L493.92 148.90 L495.40 149.14 L496.88 149.37 L498.36 149.59 L499.84 149.81 L501.32 150.03 L502.80 150.24 L504.29 150.44 L505.77 150.64 L507.26 150.83 L508.75 151.01 L510.24 151.18 L511.73 151.33 L513.22 151.47 L514.71 151.58 L516.20 151.68 L517.70 151.75 L519.20 151.79 L520.69 151.80 L522.19 151.78 L523.69 151.74 L525.19 151.66 L526.69 151.54 L528.18 151.40 L529.67 151.22 L531.15 151.01 L532.63 150.76 L534.10 150.48 L535.56 150.17 L537.02 149.82 L538.47 149.45 L539.91 149.05 L541.35 148.63 L542.78 148.18 L544.21 147.72 L545.63 147.24 L547.05 146.75 L548.46 146.24 L549.86 145.72 L551.26 145.19 L552.65 144.63 L554.03 144.05 L555.40 143.45 L556.76 142.82 L558.10 142.16 L559.43 141.46 L560.74 140.73 L562.02 139.95 L563.27 139.13 L564.49 138.26 L565.66 137.33 L566.79 136.35 L567.87 135.31 L568.90 134.20" fill="none" stroke="#f57a20" stroke-width="1.05"/>
<path d="M271.70 151.30 L273.20 151.30 L274.70 151.30 L276.20 151.30 L277.69 151.30 L279.19 151.29 L280.69 151.28 L282.19 151.27 L283.69 151.26 L285.19 151.24 L286.69 151.23 L288.19 151.22 L289.68 151.20 L291.18 151.19 L292.68 151.18 L294.18 151.16 L295.68 151.15 L297.18 151.15 L298.68 151.14 L300.18 151.13 L301.67 151.13 L303.17 151.13 L304.67 151.14 L306.17 151.15 L307.67 151.16 L309.17 151.18 L310.67 151.20 L312.17 151.22 L313.66 151.26 L315.16 151.29 L316.66 151.33 L318.16 151.38 L319.66 151.43 L321.16 151.49 L322.65 151.56 L324.15 151.63 L325.65 151.70 L327.14 151.78 L328.64 151.87 L330.14 151.96 L331.63 152.06 L333.13 152.17 L334.62 152.28 L336.12 152.40 L337.61 152.52 L339.10 152.65 L340.60 152.78 L342.09 152.92 L343.58 153.06 L345.07 153.21 L346.56 153.35 L348.05 153.50 L349.55 153.65 L351.04 153.80 L352.53 153.95 L354.02 154.10 L355.51 154.25 L357.00 154.40 L358.50 154.55 L359.99 154.69 L361.48 154.84 L362.97 154.98 L364.46 155.13 L365.96 155.27 L367.45 155.42 L368.94 155.57 L370.43 155.72 L371.92 155.87 L373.41 156.03 L374.90 156.19 L376.39 156.36 L377.88 156.53 L379.37 156.70 L380.86 156.88 L382.34 157.06 L383.83 157.26 L385.31 157.45 L386.80 157.66 L388.28 157.87 L389.76 158.09 L391.25 158.31 L392.73 158.54 L394.21 158.77 L395.69 159.01 L397.17 159.25 L398.64 159.50 L400.12 159.76 L401.60 160.01 L403.08 160.28 L404.55 160.54 L406.03 160.81 L407.50 161.08 L408.97 161.36 L410.45 161.64 L411.92 161.92 L413.39 162.21 L414.86 162.50 L416.33 162.79 L417.80 163.08 L419.27 163.38 L420.74 163.67 L422.21 163.97 L423.68 164.27 L425.15 164.57 L426.62 164.88 L428.08 165.19 L429.55 165.50 L431.02 165.81 L432.48 166.12 L433.95 166.44 L435.41 166.75 L436.88 167.07 L438.34 167.39 L439.80 167.72 L441.27 168.04 L442.73 168.37 L444.19 168.70 L445.65 169.03 L447.11 169.37 L448.57 169.70 L450.03 170.04 L451.49 170.38 L452.95 170.72 L454.41 171.06 L455.87 171.41 L457.33 171.75 L458.79 172.10 L460.25 172.45 L461.70 172.79 L463.16 173.14 L464.62 173.49 L466.08 173.84 L467.53 174.19 L468.99 174.54 L470.45 174.88 L471.91 175.23 L473.37 175.58 L474.83 175.92 L476.29 176.26 L477.75 176.59 L479.21 176.92 L480.67 177.24 L482.14 177.56 L483.60 177.87 L485.07 178.18 L486.54 178.47 L488.01 178.76 L489.49 179.04 L490.96 179.31 L492.44 179.57 L493.92 179.82 L495.40 180.05 L496.88 180.28 L498.36 180.50 L499.85 180.70 L501.33 180.89 L502.82 181.07 L504.31 181.24 L505.80 181.39 L507.29 181.53 L508.79 181.66 L510.28 181.78 L511.78 181.89 L513.27 181.99 L514.77 182.08 L516.27 182.16 L517.76 182.23 L519.26 182.29 L520.76 182.35 L522.26 182.39 L523.76 182.41 L525.26 182.41 L526.75 182.40 L528.25 182.35 L529.75 182.29 L531.25 182.19 L532.75 182.08 L534.24 181.93 L535.73 181.75 L537.21 181.55 L538.70 181.32 L540.17 181.06 L541.64 180.77 L543.11 180.45 L544.57 180.10 L546.02 179.74 L547.47 179.34 L548.91 178.93 L550.35 178.50 L551.78 178.04 L553.21 177.57 L554.62 177.08 L556.03 176.56 L557.43 176.03 L558.83 175.48 L560.21 174.90 L561.59 174.31 L562.95 173.68 L564.31 173.04 L565.65 172.37 L566.99 171.68 L568.30 170.95 L569.60 170.20 L570.88 169.41 L572.13 168.59 L573.36 167.73 L574.56 166.83 L575.72 165.89 L576.85 164.91 L577.95 163.88 L579.00 162.80" fill="none" stroke="#55902c" stroke-width="1.05"/>
<path d="M271.70 161.90 L273.19 162.01 L274.68 162.13 L276.17 162.23 L277.67 162.34 L279.16 162.45 L280.65 162.55 L282.14 162.65 L283.63 162.75 L285.13 162.85 L286.62 162.95 L288.11 163.04 L289.60 163.14 L291.10 163.23 L292.59 163.33 L294.08 163.42 L295.57 163.52 L297.07 163.61 L298.56 163.71 L300.05 163.80 L301.55 163.90 L303.04 164.00 L304.53 164.09 L306.02 164.19 L307.51 164.30 L309.01 164.40 L310.50 164.50 L311.99 164.61 L313.48 164.72 L314.97 164.83 L316.46 164.95 L317.96 165.07 L319.45 165.19 L320.94 165.31 L322.43 165.44 L323.92 165.57 L325.41 165.71 L326.90 165.84 L328.38 165.99 L329.87 166.13 L331.36 166.28 L332.85 166.44 L334.34 166.60 L335.82 166.76 L337.31 166.92 L338.80 167.09 L340.28 167.27 L341.77 167.44 L343.25 167.62 L344.74 167.81 L346.22 167.99 L347.70 168.19 L349.19 168.38 L350.67 168.58 L352.15 168.78 L353.63 168.99 L355.11 169.20 L356.59 169.41 L358.07 169.63 L359.55 169.85 L361.03 170.07 L362.51 170.29 L363.99 170.52 L365.47 170.75 L366.94 170.99 L368.42 171.22 L369.90 171.46 L371.37 171.70 L372.85 171.94 L374.33 172.18 L375.80 172.42 L377.28 172.67 L378.75 172.92 L380.23 173.16 L381.70 173.41 L383.18 173.66 L384.65 173.91 L386.13 174.16 L387.60 174.41 L389.07 174.67 L390.55 174.92 L392.02 175.17 L393.50 175.43 L394.97 175.68 L396.44 175.94 L397.92 176.20 L399.39 176.45 L400.86 176.71 L402.34 176.97 L403.81 177.23 L405.28 177.49 L406.75 177.76 L408.23 178.02 L409.70 178.29 L411.17 178.55 L412.64 178.82 L414.11 179.09 L415.58 179.36 L417.05 179.63 L418.52 179.90 L419.99 180.17 L421.46 180.45 L422.93 180.72 L424.40 181.00 L425.87 181.28 L427.34 181.56 L428.81 181.83 L430.28 182.11 L431.75 182.39 L433.22 182.67 L434.69 182.95 L436.16 183.23 L437.63 183.51 L439.10 183.79 L440.57 184.07 L442.04 184.35 L443.51 184.62 L444.98 184.90 L446.45 185.18 L447.92 185.45 L449.39 185.73 L450.86 186.00 L452.33 186.28 L453.80 186.55 L455.27 186.82 L456.74 187.08 L458.21 187.35 L459.69 187.61 L461.16 187.86 L462.63 188.12 L464.11 188.37 L465.58 188.61 L467.06 188.85 L468.54 189.08 L470.01 189.31 L471.49 189.54 L472.97 189.76 L474.45 189.97 L475.93 190.18 L477.41 190.39 L478.90 190.60 L480.38 190.81 L481.86 191.01 L483.34 191.21 L484.82 191.42 L486.30 191.62 L487.78 191.82 L489.27 192.03 L490.75 192.23 L492.23 192.43 L493.71 192.63 L495.19 192.82 L496.68 193.02 L498.16 193.20 L499.65 193.39 L501.13 193.57 L502.62 193.74 L504.11 193.91 L505.60 194.07 L507.09 194.22 L508.58 194.35 L510.07 194.47 L511.56 194.58 L513.05 194.66 L514.55 194.73 L516.04 194.78 L517.54 194.80 L519.03 194.79 L520.53 194.77 L522.03 194.71 L523.52 194.63 L525.01 194.52 L526.51 194.38 L528.00 194.22 L529.48 194.03 L530.97 193.81 L532.45 193.57 L533.92 193.30 L535.39 193.00 L536.86 192.67 L538.31 192.31 L539.76 191.93 L541.20 191.51 L542.63 191.06 L544.05 190.58 L545.46 190.06 L546.85 189.52 L548.22 188.93 L549.58 188.32 L550.93 187.66 L552.26 186.98 L553.57 186.28 L554.88 185.54 L556.17 184.79 L557.46 184.02 L558.73 183.23 L560.00 182.43 L561.27 181.62 L562.52 180.80 L563.78 179.97 L565.02 179.13 L566.24 178.27 L567.45 177.39 L568.64 176.49 L569.81 175.56 L570.95 174.59 L572.06 173.60 L573.15 172.58 L574.22 171.54 L575.28 170.47 L576.31 169.39 L577.34 168.30 L578.36 167.20 L579.37 166.09 L580.38 164.98 L581.39 163.87 L582.39 162.76 L583.38 161.64 L584.37 160.52 L585.34 159.38 L586.30 158.24 L587.25 157.08 L588.18 155.92 L589.11 154.74 L590.02 153.56 L590.94 152.38 L591.85 151.19 L592.76 150.00 L593.67 148.81 L594.57 147.61 L595.47 146.41 L596.34 145.20 L597.20 143.98 L598.03 142.74 L598.84 141.48 L599.61 140.20 L600.36 138.91 L601.09 137.60 L601.82 136.29 L602.53 134.98 L603.25 133.67 L603.98 132.36 L604.73 131.06 L605.49 129.77 L606.26 128.49 L607.04 127.22 L607.83 125.94 L608.60 124.67 L609.38 123.39 L610.13 122.10 L610.88 120.80 L611.61 119.50 L612.33 118.18 L613.04 116.87 L613.74 115.55 L614.43 114.22 L615.13 112.90 L615.82 111.57 L616.51 110.24 L617.20 108.91 L617.88 107.58 L618.56 106.25 L619.23 104.91 L619.89 103.57 L620.53 102.22 L621.16 100.86 L621.77 99.50 L622.37 98.13 L622.96 96.75 L623.53 95.37 L624.10 93.99 L624.65 92.60 L625.20 91.20 L625.74 89.81 L626.27 88.41 L626.80 87.01 L627.32 85.61 L627.84 84.20 L628.36 82.80 L628.88 81.40 L629.40 80.00" fill="none" stroke="#36868e" stroke-width="1.05"/>
<path d="M271.70 169.10 L273.19 169.22 L274.68 169.34 L276.18 169.46 L277.67 169.59 L279.16 169.71 L280.65 169.84 L282.14 169.96 L283.64 170.09 L285.13 170.22 L286.62 170.35 L288.11 170.48 L289.60 170.61 L291.09 170.75 L292.58 170.88 L294.07 171.02 L295.56 171.16 L297.05 171.29 L298.54 171.43 L300.04 171.57 L301.53 171.72 L303.02 171.86 L304.51 172.00 L306.00 172.15 L307.49 172.29 L308.98 172.44 L310.46 172.59 L311.95 172.74 L313.44 172.88 L314.93 173.04 L316.42 173.19 L317.91 173.34 L319.40 173.49 L320.89 173.65 L322.38 173.80 L323.87 173.96 L325.36 174.12 L326.85 174.28 L328.33 174.43 L329.82 174.60 L331.31 174.76 L332.80 174.92 L334.29 175.09 L335.78 175.26 L337.26 175.43 L338.75 175.60 L340.24 175.77 L341.72 175.95 L343.21 176.13 L344.69 176.31 L346.18 176.50 L347.67 176.69 L349.15 176.88 L350.63 177.08 L352.12 177.28 L353.60 177.48 L355.08 177.69 L356.56 177.90 L358.05 178.12 L359.53 178.34 L361.01 178.56 L362.49 178.78 L363.97 179.01 L365.45 179.24 L366.93 179.47 L368.40 179.70 L369.88 179.93 L371.36 180.17 L372.84 180.41 L374.32 180.64 L375.80 180.88 L377.27 181.12 L378.75 181.35 L380.23 181.59 L381.71 181.83 L383.19 182.07 L384.67 182.30 L386.14 182.54 L387.62 182.77 L389.10 183.00 L390.58 183.24 L392.06 183.47 L393.54 183.70 L395.02 183.94 L396.49 184.17 L397.97 184.40 L399.45 184.64 L400.93 184.87 L402.41 185.11 L403.89 185.34 L405.36 185.58 L406.84 185.82 L408.32 186.06 L409.80 186.31 L411.27 186.55 L412.75 186.80 L414.23 187.04 L415.70 187.29 L417.18 187.55 L418.65 187.80 L420.13 188.06 L421.60 188.32 L423.08 188.58 L424.55 188.84 L426.03 189.10 L427.50 189.36 L428.98 189.62 L430.45 189.88 L431.93 190.14 L433.40 190.39 L434.88 190.64 L436.36 190.89 L437.83 191.14 L439.31 191.38 L440.79 191.62 L442.27 191.85 L443.75 192.07 L445.23 192.29 L446.71 192.51 L448.19 192.72 L449.67 192.92 L451.16 193.11 L452.64 193.30 L454.13 193.48 L455.61 193.65 L457.10 193.82 L458.59 193.99 L460.08 194.16 L461.56 194.33 L463.05 194.50 L464.54 194.68 L466.02 194.85 L467.51 195.04 L469.00 195.23 L470.48 195.42 L471.96 195.62 L473.45 195.83 L474.93 196.03 L476.41 196.24 L477.90 196.44 L479.38 196.64 L480.86 196.83 L482.35 197.02 L483.84 197.20 L485.32 197.37 L486.81 197.53 L488.30 197.68 L489.79 197.82 L491.28 197.95 L492.78 198.07 L494.27 198.18 L495.76 198.28 L497.26 198.38 L498.75 198.46 L500.25 198.54 L501.74 198.62 L503.24 198.68 L504.73 198.74 L506.23 198.78 L507.73 198.81 L509.22 198.82 L510.72 198.81 L512.22 198.78 L513.72 198.73 L515.22 198.66 L516.71 198.56 L518.21 198.44 L519.70 198.30 L521.19 198.13 L522.68 197.93 L524.16 197.71 L525.63 197.46 L527.10 197.18 L528.57 196.88 L530.03 196.56 L531.48 196.21 L532.94 195.85 L534.39 195.48 L535.83 195.10 L537.28 194.71 L538.73 194.31 L540.17 193.92 L541.62 193.52 L543.07 193.14 L544.52 192.76 L545.97 192.38 L547.42 192.01 L548.87 191.64 L550.32 191.27 L551.77 190.89 L553.22 190.51 L554.66 190.11 L556.10 189.71 L557.54 189.28 L558.97 188.84 L560.39 188.37 L561.80 187.88 L563.21 187.37 L564.61 186.84 L566.00 186.29 L567.39 185.72 L568.77 185.14 L570.14 184.54 L571.51 183.93 L572.87 183.30 L574.23 182.66 L575.57 182.01 L576.91 181.33 L578.24 180.65 L579.56 179.94 L580.87 179.22 L582.17 178.48 L583.46 177.72 L584.74 176.94 L586.01 176.15 L587.27 175.34 L588.52 174.52 L589.77 173.69 L591.01 172.85 L592.25 172.00 L593.48 171.15 L594.70 170.29 L595.93 169.42 L597.15 168.56 L598.38 167.69 L599.60 166.82 L600.82 165.96 L602.04 165.10 L603.27 164.25 L604.50 163.40" fill="none" stroke="#9c1fa0" stroke-width="1.05"/>
<path d="M271.70 173.50 L273.19 173.60 L274.69 173.70 L276.18 173.80 L277.68 173.91 L279.17 174.01 L280.66 174.12 L282.16 174.23 L283.65 174.34 L285.14 174.45 L286.64 174.57 L288.13 174.68 L289.62 174.80 L291.12 174.92 L292.61 175.04 L294.10 175.16 L295.60 175.29 L297.09 175.41 L298.58 175.54 L300.07 175.67 L301.56 175.80 L303.06 175.94 L304.55 176.08 L306.04 176.22 L307.53 176.36 L309.02 176.50 L310.51 176.65 L312.00 176.79 L313.49 176.94 L314.98 177.10 L316.47 177.25 L317.96 177.41 L319.45 177.57 L320.94 177.73 L322.43 177.89 L323.92 178.06 L325.40 178.23 L326.89 178.40 L328.38 178.58 L329.87 178.75 L331.35 178.93 L332.84 179.11 L334.33 179.28 L335.82 179.46 L337.30 179.63 L338.79 179.80 L340.28 179.97 L341.77 180.14 L343.26 180.31 L344.74 180.48 L346.23 180.64 L347.72 180.80 L349.21 180.97 L350.70 181.14 L352.19 181.31 L353.67 181.48 L355.16 181.65 L356.65 181.83 L358.13 182.01 L359.62 182.20 L361.11 182.38 L362.59 182.57 L364.08 182.76 L365.56 182.96 L367.05 183.15 L368.53 183.35 L370.02 183.55 L371.50 183.75 L372.99 183.95 L374.47 184.15 L375.95 184.36 L377.44 184.57 L378.92 184.77 L380.40 184.98 L381.89 185.19 L383.37 185.40 L384.85 185.60 L386.34 185.81 L387.82 186.02 L389.30 186.23 L390.78 186.44 L392.27 186.65 L393.75 186.86 L395.23 187.07 L396.72 187.28 L398.20 187.49 L399.68 187.70 L401.16 187.91 L402.65 188.12 L404.13 188.33 L405.61 188.53 L407.10 188.74 L408.58 188.95 L410.06 189.16 L411.55 189.36 L413.03 189.57 L414.51 189.77 L416.00 189.98 L417.48 190.18 L418.97 190.38 L420.45 190.58 L421.94 190.78 L423.42 190.98 L424.91 191.18 L426.39 191.37 L427.88 191.57 L429.36 191.76 L430.85 191.95 L432.33 192.13 L433.82 192.31 L435.31 192.49 L436.79 192.67 L438.28 192.84 L439.77 193.01 L441.26 193.18 L442.75 193.34 L444.24 193.50 L445.73 193.66 L447.22 193.81 L448.71 193.95 L450.20 194.09 L451.69 194.23 L453.18 194.36 L454.67 194.49 L456.17 194.61 L457.66 194.74 L459.15 194.87 L460.64 195.00 L462.14 195.13 L463.63 195.26 L465.12 195.41 L466.61 195.55 L468.10 195.71 L469.59 195.87 L471.07 196.05 L472.56 196.22 L474.05 196.40 L475.54 196.58 L477.02 196.76 L478.51 196.94 L480.00 197.11 L481.49 197.28 L482.98 197.43 L484.47 197.58 L485.96 197.71 L487.45 197.83 L488.94 197.95 L490.44 198.05 L491.93 198.14 L493.43 198.23 L494.92 198.31 L496.42 198.38 L497.92 198.45 L499.41 198.52 L500.91 198.58 L502.41 198.64 L503.90 198.70 L505.40 198.76 L506.90 198.82 L508.39 198.87 L509.89 198.92 L511.39 198.97 L512.88 199.01 L514.38 199.04 L515.88 199.07 L517.38 199.09 L518.87 199.11 L520.37 199.11 L521.87 199.11 L523.37 199.10 L524.86 199.09 L526.36 199.07 L527.86 199.03 L529.36 199.00 L530.85 198.95 L532.35 198.90 L533.85 198.84 L535.34 198.78 L536.84 198.71 L538.34 198.63 L539.83 198.54 L541.33 198.45 L542.82 198.35 L544.32 198.24 L545.81 198.13 L547.30 198.00 L548.79 197.87 L550.29 197.73 L551.78 197.58 L553.26 197.42 L554.75 197.26 L556.24 197.08 L557.73 196.90 L559.21 196.71 L560.70 196.50 L562.18 196.30 L563.66 196.08 L565.14 195.86 L566.62 195.63 L568.10 195.40 L569.58 195.17 L571.06 194.93 L572.54 194.69 L574.02 194.44 L575.49 194.19 L576.97 193.92 L578.44 193.65 L579.91 193.37 L581.38 193.07 L582.84 192.75 L584.30 192.43 L585.76 192.09 L587.22 191.73 L588.67 191.37 L590.12 190.99 L591.57 190.60 L593.01 190.21 L594.46 189.80 L595.90 189.39 L597.34 188.97 L598.77 188.55 L600.21 188.11 L601.64 187.68 L603.07 187.24 L604.50 186.80" fill="none" stroke="#222222" stroke-width="1.05"/>
<g stroke="#555" stroke-width="1.3" fill="none">
<line x1="271.80" y1="259.75" x2="680.90" y2="259.75"/>
<line x1="680.25" y1="19.20" x2="680.25" y2="259.75"/>
</g><g stroke="#222" stroke-width="0.9">
<line x1="277.20" y1="256.35" x2="277.20" y2="259.75"/>
<line x1="327.60" y1="256.35" x2="327.60" y2="259.75"/>
<line x1="378.00" y1="256.35" x2="378.00" y2="259.75"/>
<line x1="428.40" y1="256.35" x2="428.40" y2="259.75"/>
<line x1="478.80" y1="256.35" x2="478.80" y2="259.75"/>
<line x1="529.20" y1="256.35" x2="529.20" y2="259.75"/>
<line x1="579.60" y1="256.35" x2="579.60" y2="259.75"/>
<line x1="630.00" y1="256.35" x2="630.00" y2="259.75"/>
<line x1="676.35" y1="220.30" x2="680.25" y2="220.30"/>
<line x1="676.35" y1="180.90" x2="680.25" y2="180.90"/>
<line x1="676.35" y1="141.50" x2="680.25" y2="141.50"/>
<line x1="676.35" y1="102.10" x2="680.25" y2="102.10"/>
<line x1="676.35" y1="62.70" x2="680.25" y2="62.70"/>
<line x1="676.35" y1="23.30" x2="680.25" y2="23.30"/>
</g><g font-size="9.6" fill="#000">
<text transform="translate(277.40 271.00) scale(1.060 1)" text-anchor="middle">-0.08</text>
<text transform="translate(327.80 271.00) scale(1.060 1)" text-anchor="middle">-0.07</text>
<text transform="translate(378.20 271.00) scale(1.060 1)" text-anchor="middle">-0.06</text>
<text transform="translate(428.60 271.00) scale(1.060 1)" text-anchor="middle">-0.05</text>
<text transform="translate(479.00 271.00) scale(1.060 1)" text-anchor="middle">-0.04</text>
<text transform="translate(529.40 271.00) scale(1.060 1)" text-anchor="middle">-0.03</text>
<text transform="translate(579.80 271.00) scale(1.060 1)" text-anchor="middle">-0.02</text>
<text transform="translate(630.20 271.00) scale(1.060 1)" text-anchor="middle">-0.01</text>
<text transform="translate(680.70 271.00) scale(1.150 1)" text-anchor="middle">0</text>
<text transform="translate(682.85 262.90) scale(1.100 1)" text-anchor="start">0</text>
<text transform="translate(683.65 223.50) scale(1.100 1)" text-anchor="start">20</text>
<text transform="translate(683.65 184.10) scale(1.100 1)" text-anchor="start">40</text>
<text transform="translate(683.65 144.70) scale(1.100 1)" text-anchor="start">60</text>
<text transform="translate(683.65 105.30) scale(1.100 1)" text-anchor="start">80</text>
<text transform="translate(683.65 65.90) scale(1.100 1)" text-anchor="start">100</text>
<text transform="translate(683.65 26.50) scale(1.100 1)" text-anchor="start">120</text>
</g>
<text transform="translate(676.5 15.0) scale(1.12 1)" font-size="10.3" fill="#111" font-style="italic">χ</text><text x="682.5" y="10.3" font-size="7.4" fill="#111">2</text>
<g fill="#222" font-size="11.30"><text transform="translate(253.40 250.90) scale(1.000 1)" text-anchor="start">Im</text><text transform="translate(265.87 251.95) scale(0.794 1)" text-anchor="start" font-size="13.56">(</text><text transform="translate(269.81 250.90) scale(1.019 1)" text-anchor="start" font-size="9.58" font-style="italic" stroke="#222" stroke-width="0.15">a</text><text transform="translate(274.76 252.63) scale(1.237 1)" text-anchor="start" font-size="6.84" font-style="italic" stroke="#222" stroke-width="0.15">t</text><text transform="translate(280.47 251.00) scale(1.126 1)" text-anchor="start" font-size="9.71" font-style="italic" stroke="#222" stroke-width="0.15">k</text><text transform="translate(286.58 254.10) scale(1.076 1)" text-anchor="start" font-size="7.23" font-style="italic" stroke="#222" stroke-width="0.12">K</text><text transform="translate(293.89 254.10) scale(1.191 1)" text-anchor="start" font-size="7.23" font-style="italic" stroke="#222" stroke-width="0.12">K</text><line x1="295.30" y1="247.40" x2="300.10" y2="247.40" stroke="#222" stroke-width="0.6"/><text transform="translate(300.57 251.95) scale(0.823 1)" text-anchor="start" font-size="13.56">)</text></g>
<text transform="translate(580.70 25.60) scale(1.040 1)" text-anchor="start" font-size="9.80" fill="#c62f3c">0.01</text>
<text transform="translate(572.00 134.60) scale(1.040 1)" text-anchor="start" font-size="9.80" fill="#f57a20">0.02</text>
<text transform="translate(555.30 162.50) scale(1.040 1)" text-anchor="start" font-size="9.80" fill="#55902c">0.03</text>
<text transform="translate(631.60 82.70) scale(1.040 1)" text-anchor="start" font-size="9.80" fill="#36868e">0.04</text>
<text transform="translate(605.70 162.70) scale(1.040 1)" text-anchor="start" font-size="9.80" fill="#9c1fa0">0.05</text>
<text transform="translate(608.20 186.60) scale(1.040 1)" text-anchor="start" font-size="9.80" fill="#222222">0.06</text>
</svg></body></html>
